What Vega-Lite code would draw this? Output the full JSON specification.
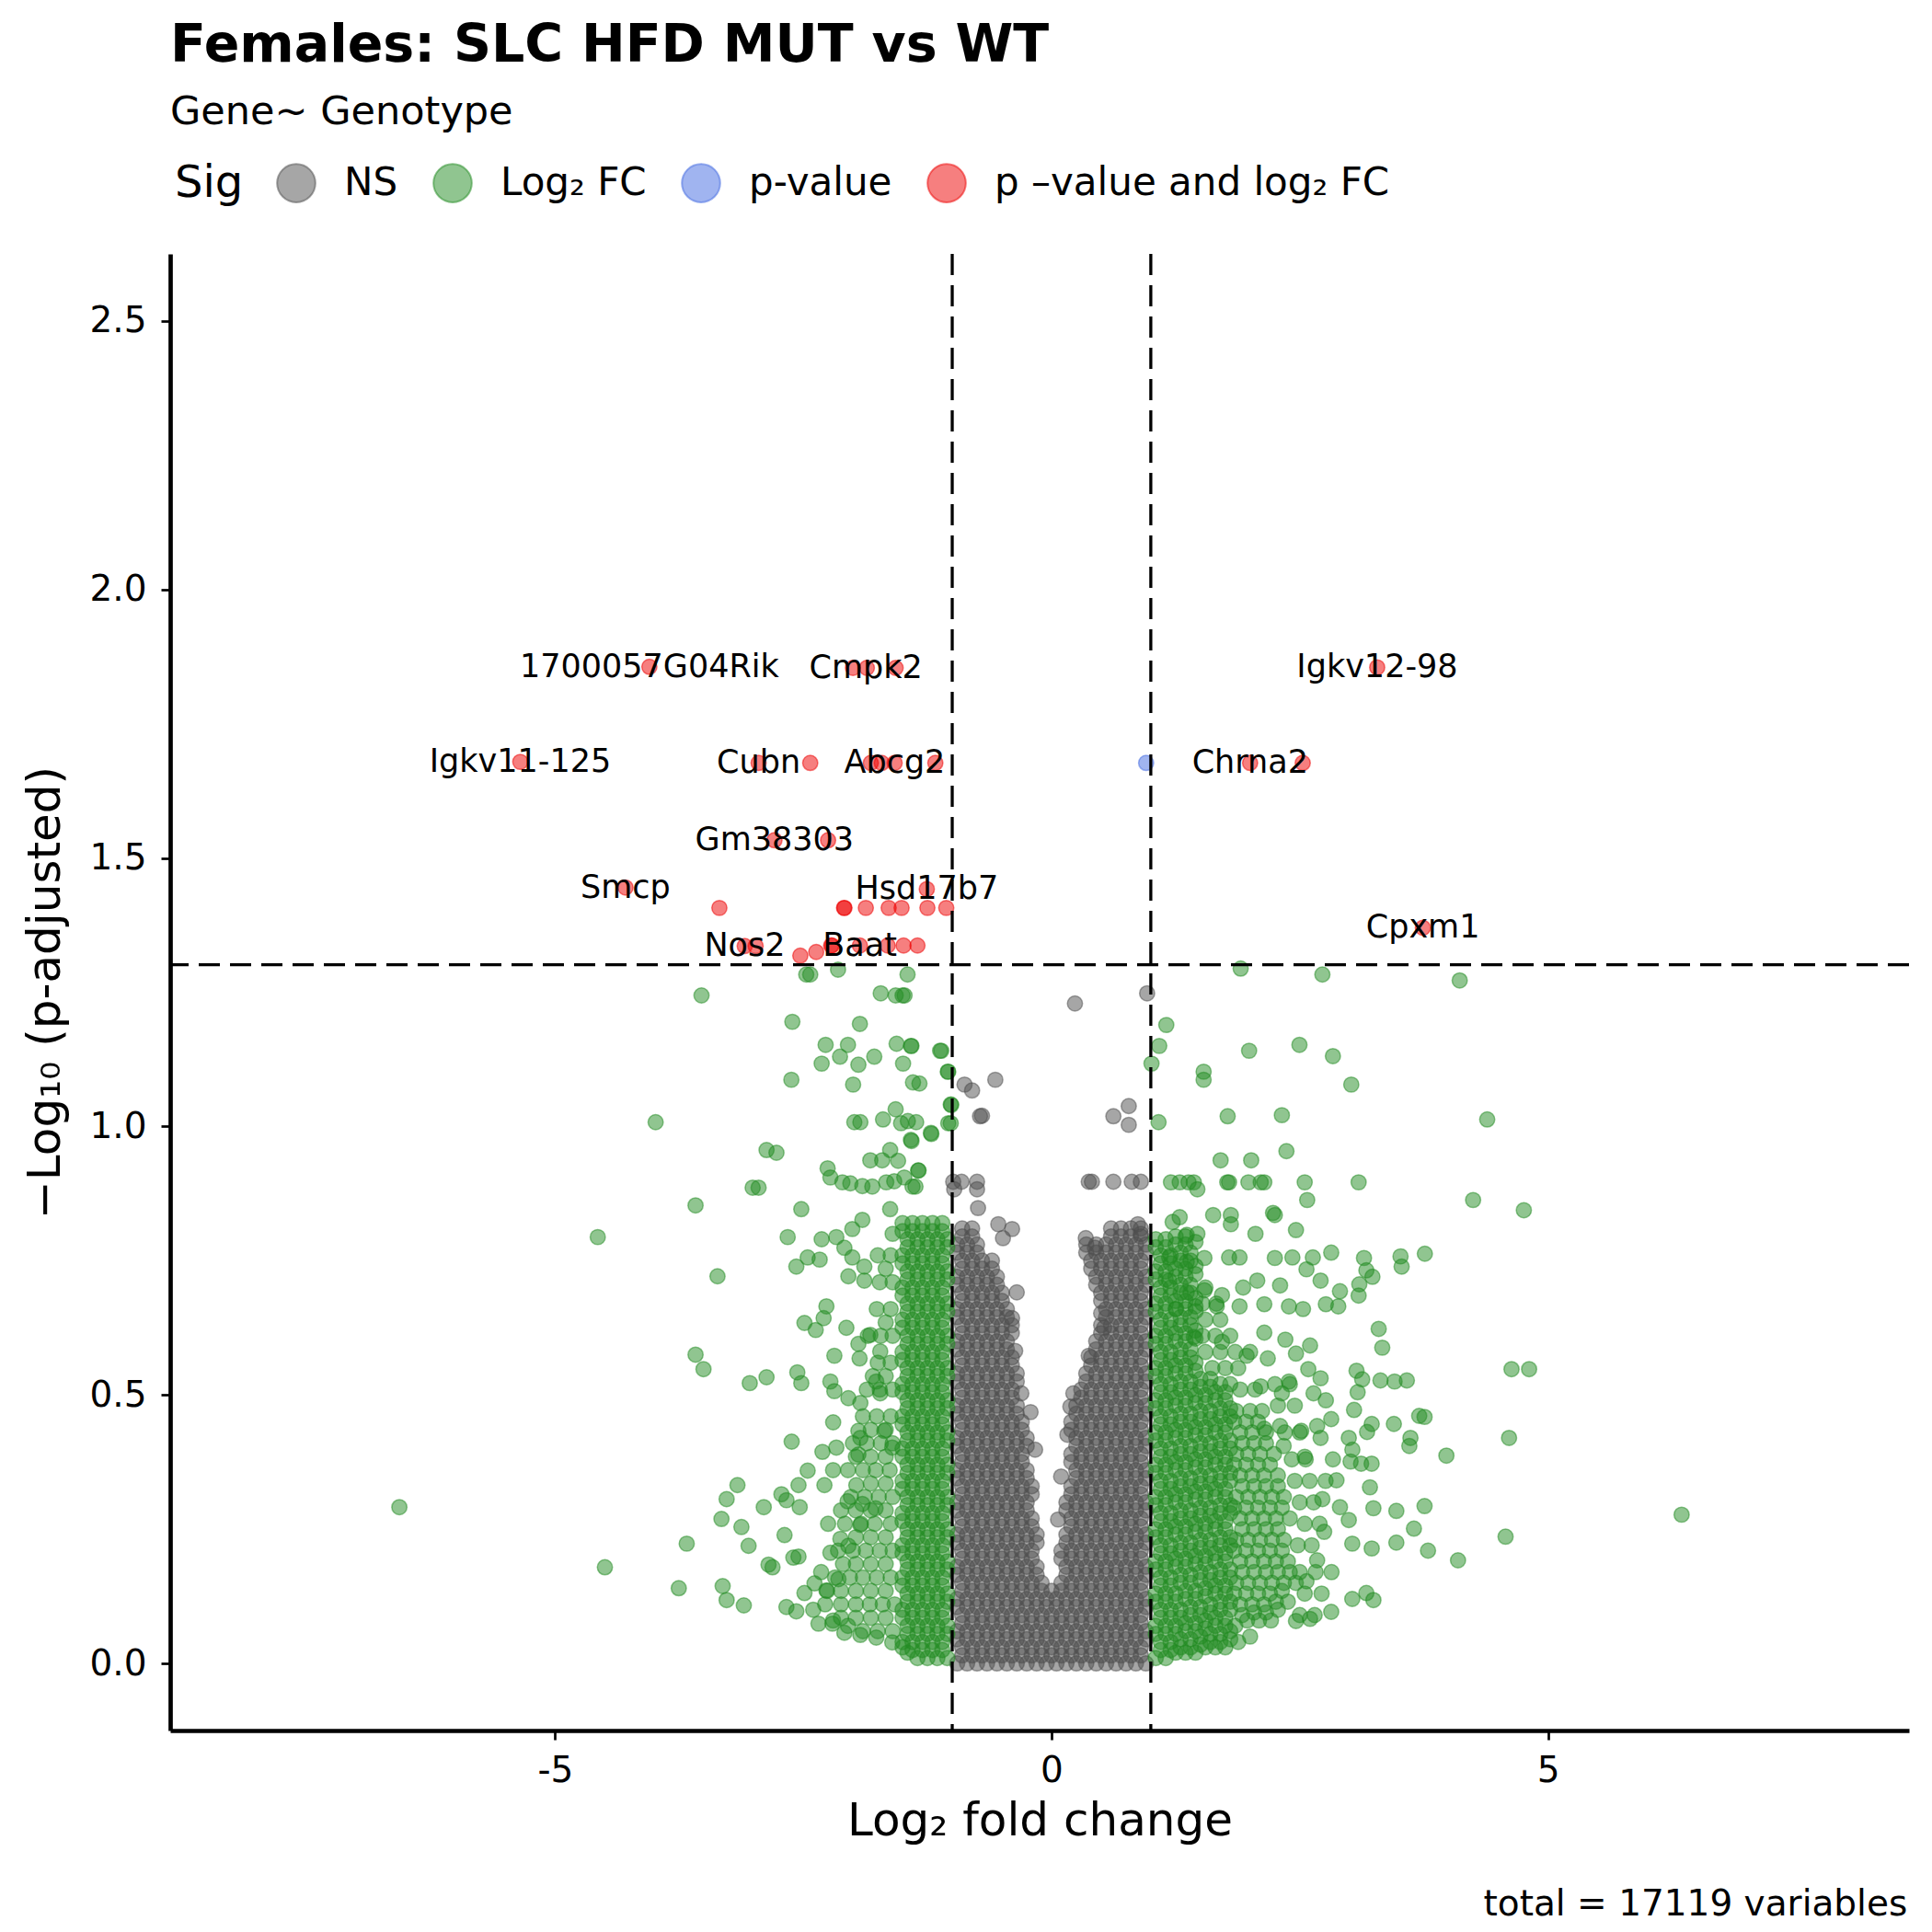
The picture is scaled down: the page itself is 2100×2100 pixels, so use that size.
{
"$schema":"https://vega.github.io/schema/vega-lite/v6.json",
"width":1890,"height":1605,
"autosize":{"type":"none"},
"padding":{"left":185,"top":276,"right":25,"bottom":219},
"background":"white",
"config":{"view":{"stroke":null},"font":"DejaVu Sans"},
"title":{"text":"Females: SLC HFD MUT vs WT","subtitle":"Gene~ Genotype","anchor":"start","frame":"group","font":"DejaVu Sans","fontSize":57,"fontWeight":"bold","color":"black","subtitleFont":"DejaVu Sans","subtitleFontSize":43,"subtitleColor":"black","subtitlePadding":22,"offset":32},
"datasets":{
"pts":[
{"x":-0.95,"y":0,"s":"N"},{"x":-0.85,"y":0,"s":"N"},{"x":-0.75,"y":0,"s":"N"},{"x":-0.65,"y":0,"s":"N"},{"x":-0.55,"y":0,"s":"N"},{"x":-0.45,"y":0,"s":"N"},{"x":-0.35,"y":0,"s":"N"},{"x":-0.25,"y":0,"s":"N"},{"x":-0.15,"y":0,"s":"N"},{"x":-0.05,"y":0,"s":"N"},{"x":0.05,"y":0,"s":"N"},{"x":0.15,"y":0,"s":"N"},{"x":0.25,"y":0,"s":"N"},{"x":0.35,"y":0,"s":"N"},{"x":0.45,"y":0,"s":"N"},{"x":0.55,"y":0,"s":"N"},{"x":0.65,"y":0,"s":"N"},{"x":0.75,"y":0,"s":"N"},{"x":0.85,"y":0,"s":"N"},{"x":0.95,"y":0,"s":"N"},
{"x":-0.9,"y":0.015,"s":"N"},{"x":-0.8,"y":0.015,"s":"N"},{"x":-0.7,"y":0.015,"s":"N"},{"x":-0.6,"y":0.015,"s":"N"},{"x":-0.5,"y":0.015,"s":"N"},{"x":-0.4,"y":0.015,"s":"N"},{"x":-0.3,"y":0.015,"s":"N"},{"x":-0.2,"y":0.015,"s":"N"},{"x":-0.1,"y":0.015,"s":"N"},{"x":0,"y":0.015,"s":"N"},{"x":0.1,"y":0.015,"s":"N"},{"x":0.2,"y":0.015,"s":"N"},{"x":0.3,"y":0.015,"s":"N"},{"x":0.4,"y":0.015,"s":"N"},{"x":0.5,"y":0.015,"s":"N"},{"x":0.6,"y":0.015,"s":"N"},{"x":0.7,"y":0.015,"s":"N"},{"x":0.8,"y":0.015,"s":"N"},{"x":0.9,"y":0.015,"s":"N"},
{"x":-0.9,"y":0.03,"s":"N"},{"x":-0.8,"y":0.03,"s":"N"},{"x":-0.7,"y":0.03,"s":"N"},{"x":-0.6,"y":0.03,"s":"N"},{"x":-0.5,"y":0.03,"s":"N"},{"x":-0.4,"y":0.03,"s":"N"},{"x":-0.3,"y":0.03,"s":"N"},{"x":-0.2,"y":0.03,"s":"N"},{"x":-0.1,"y":0.03,"s":"N"},{"x":0,"y":0.03,"s":"N"},{"x":0.1,"y":0.03,"s":"N"},{"x":0.2,"y":0.03,"s":"N"},{"x":0.3,"y":0.03,"s":"N"},{"x":0.4,"y":0.03,"s":"N"},{"x":0.5,"y":0.03,"s":"N"},{"x":0.6,"y":0.03,"s":"N"},{"x":0.7,"y":0.03,"s":"N"},{"x":0.8,"y":0.03,"s":"N"},{"x":0.9,"y":0.03,"s":"N"},
{"x":-0.95,"y":0.045,"s":"N"},{"x":-0.85,"y":0.045,"s":"N"},{"x":-0.75,"y":0.045,"s":"N"},{"x":-0.65,"y":0.045,"s":"N"},{"x":-0.55,"y":0.045,"s":"N"},{"x":-0.45,"y":0.045,"s":"N"},{"x":-0.35,"y":0.045,"s":"N"},{"x":-0.25,"y":0.045,"s":"N"},{"x":-0.15,"y":0.045,"s":"N"},{"x":-0.05,"y":0.045,"s":"N"},{"x":0.05,"y":0.045,"s":"N"},{"x":0.15,"y":0.045,"s":"N"},{"x":0.25,"y":0.045,"s":"N"},{"x":0.35,"y":0.045,"s":"N"},{"x":0.45,"y":0.045,"s":"N"},{"x":0.55,"y":0.045,"s":"N"},{"x":0.65,"y":0.045,"s":"N"},{"x":0.75,"y":0.045,"s":"N"},{"x":0.85,"y":0.045,"s":"N"},{"x":0.95,"y":0.045,"s":"N"},
{"x":-0.95,"y":0.06,"s":"N"},{"x":-0.85,"y":0.06,"s":"N"},{"x":-0.75,"y":0.06,"s":"N"},{"x":-0.65,"y":0.06,"s":"N"},{"x":-0.55,"y":0.06,"s":"N"},{"x":-0.45,"y":0.06,"s":"N"},{"x":-0.35,"y":0.06,"s":"N"},{"x":-0.25,"y":0.06,"s":"N"},{"x":-0.15,"y":0.06,"s":"N"},{"x":-0.05,"y":0.06,"s":"N"},{"x":0.05,"y":0.06,"s":"N"},{"x":0.15,"y":0.06,"s":"N"},{"x":0.25,"y":0.06,"s":"N"},{"x":0.35,"y":0.06,"s":"N"},{"x":0.45,"y":0.06,"s":"N"},{"x":0.55,"y":0.06,"s":"N"},{"x":0.65,"y":0.06,"s":"N"},{"x":0.75,"y":0.06,"s":"N"},{"x":0.85,"y":0.06,"s":"N"},{"x":0.95,"y":0.06,"s":"N"},
{"x":-0.9,"y":0.075,"s":"N"},{"x":-0.8,"y":0.075,"s":"N"},{"x":-0.7,"y":0.075,"s":"N"},{"x":-0.6,"y":0.075,"s":"N"},{"x":-0.5,"y":0.075,"s":"N"},{"x":-0.4,"y":0.075,"s":"N"},{"x":-0.3,"y":0.075,"s":"N"},{"x":-0.2,"y":0.075,"s":"N"},{"x":-0.1,"y":0.075,"s":"N"},{"x":0,"y":0.075,"s":"N"},{"x":0.1,"y":0.075,"s":"N"},{"x":0.2,"y":0.075,"s":"N"},{"x":0.3,"y":0.075,"s":"N"},{"x":0.4,"y":0.075,"s":"N"},{"x":0.5,"y":0.075,"s":"N"},{"x":0.6,"y":0.075,"s":"N"},{"x":0.7,"y":0.075,"s":"N"},{"x":0.8,"y":0.075,"s":"N"},{"x":0.9,"y":0.075,"s":"N"},
{"x":-0.9,"y":0.09,"s":"N"},{"x":-0.8,"y":0.09,"s":"N"},{"x":-0.7,"y":0.09,"s":"N"},{"x":-0.6,"y":0.09,"s":"N"},{"x":-0.5,"y":0.09,"s":"N"},{"x":-0.4,"y":0.09,"s":"N"},{"x":-0.3,"y":0.09,"s":"N"},{"x":-0.2,"y":0.09,"s":"N"},{"x":-0.1,"y":0.09,"s":"N"},{"x":0,"y":0.09,"s":"N"},{"x":0.1,"y":0.09,"s":"N"},{"x":0.2,"y":0.09,"s":"N"},{"x":0.3,"y":0.09,"s":"N"},{"x":0.4,"y":0.09,"s":"N"},{"x":0.5,"y":0.09,"s":"N"},{"x":0.6,"y":0.09,"s":"N"},{"x":0.7,"y":0.09,"s":"N"},{"x":0.8,"y":0.09,"s":"N"},{"x":0.9,"y":0.09,"s":"N"},
{"x":-0.95,"y":0.105,"s":"N"},{"x":-0.85,"y":0.105,"s":"N"},{"x":-0.75,"y":0.105,"s":"N"},{"x":-0.65,"y":0.105,"s":"N"},{"x":-0.55,"y":0.105,"s":"N"},{"x":-0.45,"y":0.105,"s":"N"},{"x":-0.35,"y":0.105,"s":"N"},{"x":-0.25,"y":0.105,"s":"N"},{"x":-0.15,"y":0.105,"s":"N"},{"x":-0.05,"y":0.105,"s":"N"},{"x":0.05,"y":0.105,"s":"N"},{"x":0.15,"y":0.105,"s":"N"},{"x":0.25,"y":0.105,"s":"N"},{"x":0.35,"y":0.105,"s":"N"},{"x":0.45,"y":0.105,"s":"N"},{"x":0.55,"y":0.105,"s":"N"},{"x":0.65,"y":0.105,"s":"N"},{"x":0.75,"y":0.105,"s":"N"},{"x":0.85,"y":0.105,"s":"N"},{"x":0.95,"y":0.105,"s":"N"},
{"x":-0.95,"y":0.12,"s":"N"},{"x":-0.85,"y":0.12,"s":"N"},{"x":-0.75,"y":0.12,"s":"N"},{"x":-0.65,"y":0.12,"s":"N"},{"x":-0.55,"y":0.12,"s":"N"},{"x":-0.45,"y":0.12,"s":"N"},{"x":-0.35,"y":0.12,"s":"N"},{"x":-0.25,"y":0.12,"s":"N"},{"x":-0.15,"y":0.12,"s":"N"},{"x":-0.05,"y":0.12,"s":"N"},{"x":0.05,"y":0.12,"s":"N"},{"x":0.15,"y":0.12,"s":"N"},{"x":0.25,"y":0.12,"s":"N"},{"x":0.35,"y":0.12,"s":"N"},{"x":0.45,"y":0.12,"s":"N"},{"x":0.55,"y":0.12,"s":"N"},{"x":0.65,"y":0.12,"s":"N"},{"x":0.75,"y":0.12,"s":"N"},{"x":0.85,"y":0.12,"s":"N"},{"x":0.95,"y":0.12,"s":"N"},
{"x":-0.9,"y":0.135,"s":"N"},{"x":-0.8,"y":0.135,"s":"N"},{"x":-0.7,"y":0.135,"s":"N"},{"x":-0.6,"y":0.135,"s":"N"},{"x":-0.5,"y":0.135,"s":"N"},{"x":-0.4,"y":0.135,"s":"N"},{"x":-0.3,"y":0.135,"s":"N"},{"x":-0.2,"y":0.135,"s":"N"},{"x":-0.1,"y":0.135,"s":"N"},{"x":0,"y":0.135,"s":"N"},{"x":0.1,"y":0.135,"s":"N"},{"x":0.2,"y":0.135,"s":"N"},{"x":0.3,"y":0.135,"s":"N"},{"x":0.4,"y":0.135,"s":"N"},{"x":0.5,"y":0.135,"s":"N"},{"x":0.6,"y":0.135,"s":"N"},{"x":0.7,"y":0.135,"s":"N"},{"x":0.8,"y":0.135,"s":"N"},{"x":0.9,"y":0.135,"s":"N"},
{"x":-0.9,"y":0.15,"s":"N"},{"x":-0.8,"y":0.15,"s":"N"},{"x":-0.7,"y":0.15,"s":"N"},{"x":-0.6,"y":0.15,"s":"N"},{"x":-0.5,"y":0.15,"s":"N"},{"x":-0.4,"y":0.15,"s":"N"},{"x":-0.3,"y":0.15,"s":"N"},{"x":-0.2,"y":0.15,"s":"N"},{"x":-0.1,"y":0.15,"s":"N"},{"x":0.1,"y":0.15,"s":"N"},{"x":0.2,"y":0.15,"s":"N"},{"x":0.3,"y":0.15,"s":"N"},{"x":0.4,"y":0.15,"s":"N"},{"x":0.5,"y":0.15,"s":"N"},{"x":0.6,"y":0.15,"s":"N"},{"x":0.7,"y":0.15,"s":"N"},{"x":0.8,"y":0.15,"s":"N"},{"x":0.9,"y":0.15,"s":"N"},
{"x":-0.95,"y":0.165,"s":"N"},{"x":-0.85,"y":0.165,"s":"N"},{"x":-0.75,"y":0.165,"s":"N"},{"x":-0.65,"y":0.165,"s":"N"},{"x":-0.55,"y":0.165,"s":"N"},{"x":-0.45,"y":0.165,"s":"N"},{"x":-0.35,"y":0.165,"s":"N"},{"x":-0.25,"y":0.165,"s":"N"},{"x":-0.15,"y":0.165,"s":"N"},{"x":0.15,"y":0.165,"s":"N"},{"x":0.25,"y":0.165,"s":"N"},{"x":0.35,"y":0.165,"s":"N"},{"x":0.45,"y":0.165,"s":"N"},{"x":0.55,"y":0.165,"s":"N"},{"x":0.65,"y":0.165,"s":"N"},{"x":0.75,"y":0.165,"s":"N"},{"x":0.85,"y":0.165,"s":"N"},{"x":0.95,"y":0.165,"s":"N"},
{"x":-0.95,"y":0.18,"s":"N"},{"x":-0.85,"y":0.18,"s":"N"},{"x":-0.75,"y":0.18,"s":"N"},{"x":-0.65,"y":0.18,"s":"N"},{"x":-0.55,"y":0.18,"s":"N"},{"x":-0.45,"y":0.18,"s":"N"},{"x":-0.35,"y":0.18,"s":"N"},{"x":-0.25,"y":0.18,"s":"N"},{"x":-0.15,"y":0.18,"s":"N"},{"x":0.15,"y":0.18,"s":"N"},{"x":0.25,"y":0.18,"s":"N"},{"x":0.35,"y":0.18,"s":"N"},{"x":0.45,"y":0.18,"s":"N"},{"x":0.55,"y":0.18,"s":"N"},{"x":0.65,"y":0.18,"s":"N"},{"x":0.75,"y":0.18,"s":"N"},{"x":0.85,"y":0.18,"s":"N"},{"x":0.95,"y":0.18,"s":"N"},
{"x":-0.9,"y":0.195,"s":"N"},{"x":-0.8,"y":0.195,"s":"N"},{"x":-0.7,"y":0.195,"s":"N"},{"x":-0.6,"y":0.195,"s":"N"},{"x":-0.5,"y":0.195,"s":"N"},{"x":-0.4,"y":0.195,"s":"N"},{"x":-0.3,"y":0.195,"s":"N"},{"x":-0.2,"y":0.195,"s":"N"},{"x":0.1,"y":0.195,"s":"N"},{"x":0.2,"y":0.195,"s":"N"},{"x":0.3,"y":0.195,"s":"N"},{"x":0.4,"y":0.195,"s":"N"},{"x":0.5,"y":0.195,"s":"N"},{"x":0.6,"y":0.195,"s":"N"},{"x":0.7,"y":0.195,"s":"N"},{"x":0.8,"y":0.195,"s":"N"},{"x":0.9,"y":0.195,"s":"N"},
{"x":-0.9,"y":0.21,"s":"N"},{"x":-0.8,"y":0.21,"s":"N"},{"x":-0.7,"y":0.21,"s":"N"},{"x":-0.6,"y":0.21,"s":"N"},{"x":-0.5,"y":0.21,"s":"N"},{"x":-0.4,"y":0.21,"s":"N"},{"x":-0.3,"y":0.21,"s":"N"},{"x":-0.2,"y":0.21,"s":"N"},{"x":0.1,"y":0.21,"s":"N"},{"x":0.2,"y":0.21,"s":"N"},{"x":0.3,"y":0.21,"s":"N"},{"x":0.4,"y":0.21,"s":"N"},{"x":0.5,"y":0.21,"s":"N"},{"x":0.6,"y":0.21,"s":"N"},{"x":0.7,"y":0.21,"s":"N"},{"x":0.8,"y":0.21,"s":"N"},{"x":0.9,"y":0.21,"s":"N"},
{"x":-0.95,"y":0.225,"s":"N"},{"x":-0.85,"y":0.225,"s":"N"},{"x":-0.75,"y":0.225,"s":"N"},{"x":-0.65,"y":0.225,"s":"N"},{"x":-0.55,"y":0.225,"s":"N"},{"x":-0.45,"y":0.225,"s":"N"},{"x":-0.35,"y":0.225,"s":"N"},{"x":-0.25,"y":0.225,"s":"N"},{"x":-0.15,"y":0.225,"s":"N"},{"x":0.15,"y":0.225,"s":"N"},{"x":0.25,"y":0.225,"s":"N"},{"x":0.35,"y":0.225,"s":"N"},{"x":0.45,"y":0.225,"s":"N"},{"x":0.55,"y":0.225,"s":"N"},{"x":0.65,"y":0.225,"s":"N"},{"x":0.75,"y":0.225,"s":"N"},{"x":0.85,"y":0.225,"s":"N"},{"x":0.95,"y":0.225,"s":"N"},
{"x":-0.95,"y":0.24,"s":"N"},{"x":-0.85,"y":0.24,"s":"N"},{"x":-0.75,"y":0.24,"s":"N"},{"x":-0.65,"y":0.24,"s":"N"},{"x":-0.55,"y":0.24,"s":"N"},{"x":-0.45,"y":0.24,"s":"N"},{"x":-0.35,"y":0.24,"s":"N"},{"x":-0.25,"y":0.24,"s":"N"},{"x":-0.15,"y":0.24,"s":"N"},{"x":0.15,"y":0.24,"s":"N"},{"x":0.25,"y":0.24,"s":"N"},{"x":0.35,"y":0.24,"s":"N"},{"x":0.45,"y":0.24,"s":"N"},{"x":0.55,"y":0.24,"s":"N"},{"x":0.65,"y":0.24,"s":"N"},{"x":0.75,"y":0.24,"s":"N"},{"x":0.85,"y":0.24,"s":"N"},{"x":0.95,"y":0.24,"s":"N"},
{"x":-0.9,"y":0.255,"s":"N"},{"x":-0.8,"y":0.255,"s":"N"},{"x":-0.7,"y":0.255,"s":"N"},{"x":-0.6,"y":0.255,"s":"N"},{"x":-0.5,"y":0.255,"s":"N"},{"x":-0.4,"y":0.255,"s":"N"},{"x":-0.3,"y":0.255,"s":"N"},{"x":-0.2,"y":0.255,"s":"N"},{"x":0.2,"y":0.255,"s":"N"},{"x":0.3,"y":0.255,"s":"N"},{"x":0.4,"y":0.255,"s":"N"},{"x":0.5,"y":0.255,"s":"N"},{"x":0.6,"y":0.255,"s":"N"},{"x":0.7,"y":0.255,"s":"N"},{"x":0.8,"y":0.255,"s":"N"},{"x":0.9,"y":0.255,"s":"N"},
{"x":-0.9,"y":0.27,"s":"N"},{"x":-0.8,"y":0.27,"s":"N"},{"x":-0.7,"y":0.27,"s":"N"},{"x":-0.6,"y":0.27,"s":"N"},{"x":-0.5,"y":0.27,"s":"N"},{"x":-0.4,"y":0.27,"s":"N"},{"x":-0.3,"y":0.27,"s":"N"},{"x":-0.2,"y":0.27,"s":"N"},{"x":0.2,"y":0.27,"s":"N"},{"x":0.3,"y":0.27,"s":"N"},{"x":0.4,"y":0.27,"s":"N"},{"x":0.5,"y":0.27,"s":"N"},{"x":0.6,"y":0.27,"s":"N"},{"x":0.7,"y":0.27,"s":"N"},{"x":0.8,"y":0.27,"s":"N"},{"x":0.9,"y":0.27,"s":"N"},
{"x":-0.95,"y":0.285,"s":"N"},{"x":-0.85,"y":0.285,"s":"N"},{"x":-0.75,"y":0.285,"s":"N"},{"x":-0.65,"y":0.285,"s":"N"},{"x":-0.55,"y":0.285,"s":"N"},{"x":-0.45,"y":0.285,"s":"N"},{"x":-0.35,"y":0.285,"s":"N"},{"x":-0.25,"y":0.285,"s":"N"},{"x":0.15,"y":0.285,"s":"N"},{"x":0.25,"y":0.285,"s":"N"},{"x":0.35,"y":0.285,"s":"N"},{"x":0.45,"y":0.285,"s":"N"},{"x":0.55,"y":0.285,"s":"N"},{"x":0.65,"y":0.285,"s":"N"},{"x":0.75,"y":0.285,"s":"N"},{"x":0.85,"y":0.285,"s":"N"},{"x":0.95,"y":0.285,"s":"N"},
{"x":-0.95,"y":0.3,"s":"N"},{"x":-0.85,"y":0.3,"s":"N"},{"x":-0.75,"y":0.3,"s":"N"},{"x":-0.65,"y":0.3,"s":"N"},{"x":-0.55,"y":0.3,"s":"N"},{"x":-0.45,"y":0.3,"s":"N"},{"x":-0.35,"y":0.3,"s":"N"},{"x":-0.25,"y":0.3,"s":"N"},{"x":0.15,"y":0.3,"s":"N"},{"x":0.25,"y":0.3,"s":"N"},{"x":0.35,"y":0.3,"s":"N"},{"x":0.45,"y":0.3,"s":"N"},{"x":0.55,"y":0.3,"s":"N"},{"x":0.65,"y":0.3,"s":"N"},{"x":0.75,"y":0.3,"s":"N"},{"x":0.85,"y":0.3,"s":"N"},{"x":0.95,"y":0.3,"s":"N"},
{"x":-0.9,"y":0.315,"s":"N"},{"x":-0.8,"y":0.315,"s":"N"},{"x":-0.7,"y":0.315,"s":"N"},{"x":-0.6,"y":0.315,"s":"N"},{"x":-0.5,"y":0.315,"s":"N"},{"x":-0.4,"y":0.315,"s":"N"},{"x":-0.3,"y":0.315,"s":"N"},{"x":-0.2,"y":0.315,"s":"N"},{"x":0.2,"y":0.315,"s":"N"},{"x":0.3,"y":0.315,"s":"N"},{"x":0.4,"y":0.315,"s":"N"},{"x":0.5,"y":0.315,"s":"N"},{"x":0.6,"y":0.315,"s":"N"},{"x":0.7,"y":0.315,"s":"N"},{"x":0.8,"y":0.315,"s":"N"},{"x":0.9,"y":0.315,"s":"N"},
{"x":-0.9,"y":0.33,"s":"N"},{"x":-0.8,"y":0.33,"s":"N"},{"x":-0.7,"y":0.33,"s":"N"},{"x":-0.6,"y":0.33,"s":"N"},{"x":-0.5,"y":0.33,"s":"N"},{"x":-0.4,"y":0.33,"s":"N"},{"x":-0.3,"y":0.33,"s":"N"},{"x":-0.2,"y":0.33,"s":"N"},{"x":0.2,"y":0.33,"s":"N"},{"x":0.3,"y":0.33,"s":"N"},{"x":0.4,"y":0.33,"s":"N"},{"x":0.5,"y":0.33,"s":"N"},{"x":0.6,"y":0.33,"s":"N"},{"x":0.7,"y":0.33,"s":"N"},{"x":0.8,"y":0.33,"s":"N"},{"x":0.9,"y":0.33,"s":"N"},
{"x":-0.95,"y":0.345,"s":"N"},{"x":-0.85,"y":0.345,"s":"N"},{"x":-0.75,"y":0.345,"s":"N"},{"x":-0.65,"y":0.345,"s":"N"},{"x":-0.55,"y":0.345,"s":"N"},{"x":-0.45,"y":0.345,"s":"N"},{"x":-0.35,"y":0.345,"s":"N"},{"x":-0.25,"y":0.345,"s":"N"},{"x":0.25,"y":0.345,"s":"N"},{"x":0.35,"y":0.345,"s":"N"},{"x":0.45,"y":0.345,"s":"N"},{"x":0.55,"y":0.345,"s":"N"},{"x":0.65,"y":0.345,"s":"N"},{"x":0.75,"y":0.345,"s":"N"},{"x":0.85,"y":0.345,"s":"N"},{"x":0.95,"y":0.345,"s":"N"},
{"x":-0.95,"y":0.36,"s":"N"},{"x":-0.85,"y":0.36,"s":"N"},{"x":-0.75,"y":0.36,"s":"N"},{"x":-0.65,"y":0.36,"s":"N"},{"x":-0.55,"y":0.36,"s":"N"},{"x":-0.45,"y":0.36,"s":"N"},{"x":-0.35,"y":0.36,"s":"N"},{"x":-0.25,"y":0.36,"s":"N"},{"x":0.25,"y":0.36,"s":"N"},{"x":0.35,"y":0.36,"s":"N"},{"x":0.45,"y":0.36,"s":"N"},{"x":0.55,"y":0.36,"s":"N"},{"x":0.65,"y":0.36,"s":"N"},{"x":0.75,"y":0.36,"s":"N"},{"x":0.85,"y":0.36,"s":"N"},{"x":0.95,"y":0.36,"s":"N"},
{"x":-0.9,"y":0.375,"s":"N"},{"x":-0.8,"y":0.375,"s":"N"},{"x":-0.7,"y":0.375,"s":"N"},{"x":-0.6,"y":0.375,"s":"N"},{"x":-0.5,"y":0.375,"s":"N"},{"x":-0.4,"y":0.375,"s":"N"},{"x":-0.3,"y":0.375,"s":"N"},{"x":0.2,"y":0.375,"s":"N"},{"x":0.3,"y":0.375,"s":"N"},{"x":0.4,"y":0.375,"s":"N"},{"x":0.5,"y":0.375,"s":"N"},{"x":0.6,"y":0.375,"s":"N"},{"x":0.7,"y":0.375,"s":"N"},{"x":0.8,"y":0.375,"s":"N"},{"x":0.9,"y":0.375,"s":"N"},
{"x":-0.9,"y":0.39,"s":"N"},{"x":-0.8,"y":0.39,"s":"N"},{"x":-0.7,"y":0.39,"s":"N"},{"x":-0.6,"y":0.39,"s":"N"},{"x":-0.5,"y":0.39,"s":"N"},{"x":-0.4,"y":0.39,"s":"N"},{"x":-0.3,"y":0.39,"s":"N"},{"x":0.2,"y":0.39,"s":"N"},{"x":0.3,"y":0.39,"s":"N"},{"x":0.4,"y":0.39,"s":"N"},{"x":0.5,"y":0.39,"s":"N"},{"x":0.6,"y":0.39,"s":"N"},{"x":0.7,"y":0.39,"s":"N"},{"x":0.8,"y":0.39,"s":"N"},{"x":0.9,"y":0.39,"s":"N"},
{"x":-0.95,"y":0.405,"s":"N"},{"x":-0.85,"y":0.405,"s":"N"},{"x":-0.75,"y":0.405,"s":"N"},{"x":-0.65,"y":0.405,"s":"N"},{"x":-0.55,"y":0.405,"s":"N"},{"x":-0.45,"y":0.405,"s":"N"},{"x":-0.35,"y":0.405,"s":"N"},{"x":-0.25,"y":0.405,"s":"N"},{"x":0.25,"y":0.405,"s":"N"},{"x":0.35,"y":0.405,"s":"N"},{"x":0.45,"y":0.405,"s":"N"},{"x":0.55,"y":0.405,"s":"N"},{"x":0.65,"y":0.405,"s":"N"},{"x":0.75,"y":0.405,"s":"N"},{"x":0.85,"y":0.405,"s":"N"},{"x":0.95,"y":0.405,"s":"N"},
{"x":-0.95,"y":0.42,"s":"N"},{"x":-0.85,"y":0.42,"s":"N"},{"x":-0.75,"y":0.42,"s":"N"},{"x":-0.65,"y":0.42,"s":"N"},{"x":-0.55,"y":0.42,"s":"N"},{"x":-0.45,"y":0.42,"s":"N"},{"x":-0.35,"y":0.42,"s":"N"},{"x":-0.25,"y":0.42,"s":"N"},{"x":0.25,"y":0.42,"s":"N"},{"x":0.35,"y":0.42,"s":"N"},{"x":0.45,"y":0.42,"s":"N"},{"x":0.55,"y":0.42,"s":"N"},{"x":0.65,"y":0.42,"s":"N"},{"x":0.75,"y":0.42,"s":"N"},{"x":0.85,"y":0.42,"s":"N"},{"x":0.95,"y":0.42,"s":"N"},
{"x":-0.9,"y":0.435,"s":"N"},{"x":-0.8,"y":0.435,"s":"N"},{"x":-0.7,"y":0.435,"s":"N"},{"x":-0.6,"y":0.435,"s":"N"},{"x":-0.5,"y":0.435,"s":"N"},{"x":-0.4,"y":0.435,"s":"N"},{"x":-0.3,"y":0.435,"s":"N"},{"x":0.2,"y":0.435,"s":"N"},{"x":0.3,"y":0.435,"s":"N"},{"x":0.4,"y":0.435,"s":"N"},{"x":0.5,"y":0.435,"s":"N"},{"x":0.6,"y":0.435,"s":"N"},{"x":0.7,"y":0.435,"s":"N"},{"x":0.8,"y":0.435,"s":"N"},{"x":0.9,"y":0.435,"s":"N"},
{"x":-0.9,"y":0.45,"s":"N"},{"x":-0.8,"y":0.45,"s":"N"},{"x":-0.7,"y":0.45,"s":"N"},{"x":-0.6,"y":0.45,"s":"N"},{"x":-0.5,"y":0.45,"s":"N"},{"x":-0.4,"y":0.45,"s":"N"},{"x":-0.3,"y":0.45,"s":"N"},{"x":0.2,"y":0.45,"s":"N"},{"x":0.3,"y":0.45,"s":"N"},{"x":0.4,"y":0.45,"s":"N"},{"x":0.5,"y":0.45,"s":"N"},{"x":0.6,"y":0.45,"s":"N"},{"x":0.7,"y":0.45,"s":"N"},{"x":0.8,"y":0.45,"s":"N"},{"x":0.9,"y":0.45,"s":"N"},
{"x":-0.95,"y":0.465,"s":"N"},{"x":-0.85,"y":0.465,"s":"N"},{"x":-0.75,"y":0.465,"s":"N"},{"x":-0.65,"y":0.465,"s":"N"},{"x":-0.55,"y":0.465,"s":"N"},{"x":-0.45,"y":0.465,"s":"N"},{"x":-0.35,"y":0.465,"s":"N"},{"x":0.25,"y":0.465,"s":"N"},{"x":0.35,"y":0.465,"s":"N"},{"x":0.45,"y":0.465,"s":"N"},{"x":0.55,"y":0.465,"s":"N"},{"x":0.65,"y":0.465,"s":"N"},{"x":0.75,"y":0.465,"s":"N"},{"x":0.85,"y":0.465,"s":"N"},{"x":0.95,"y":0.465,"s":"N"},
{"x":-0.95,"y":0.48,"s":"N"},{"x":-0.85,"y":0.48,"s":"N"},{"x":-0.75,"y":0.48,"s":"N"},{"x":-0.65,"y":0.48,"s":"N"},{"x":-0.55,"y":0.48,"s":"N"},{"x":-0.45,"y":0.48,"s":"N"},{"x":-0.35,"y":0.48,"s":"N"},{"x":0.25,"y":0.48,"s":"N"},{"x":0.35,"y":0.48,"s":"N"},{"x":0.45,"y":0.48,"s":"N"},{"x":0.55,"y":0.48,"s":"N"},{"x":0.65,"y":0.48,"s":"N"},{"x":0.75,"y":0.48,"s":"N"},{"x":0.85,"y":0.48,"s":"N"},{"x":0.95,"y":0.48,"s":"N"},
{"x":-0.9,"y":0.495,"s":"N"},{"x":-0.8,"y":0.495,"s":"N"},{"x":-0.7,"y":0.495,"s":"N"},{"x":-0.6,"y":0.495,"s":"N"},{"x":-0.5,"y":0.495,"s":"N"},{"x":-0.4,"y":0.495,"s":"N"},{"x":0.3,"y":0.495,"s":"N"},{"x":0.4,"y":0.495,"s":"N"},{"x":0.5,"y":0.495,"s":"N"},{"x":0.6,"y":0.495,"s":"N"},{"x":0.7,"y":0.495,"s":"N"},{"x":0.8,"y":0.495,"s":"N"},{"x":0.9,"y":0.495,"s":"N"},
{"x":-0.9,"y":0.51,"s":"N"},{"x":-0.8,"y":0.51,"s":"N"},{"x":-0.7,"y":0.51,"s":"N"},{"x":-0.6,"y":0.51,"s":"N"},{"x":-0.5,"y":0.51,"s":"N"},{"x":-0.4,"y":0.51,"s":"N"},{"x":0.3,"y":0.51,"s":"N"},{"x":0.4,"y":0.51,"s":"N"},{"x":0.5,"y":0.51,"s":"N"},{"x":0.6,"y":0.51,"s":"N"},{"x":0.7,"y":0.51,"s":"N"},{"x":0.8,"y":0.51,"s":"N"},{"x":0.9,"y":0.51,"s":"N"},
{"x":-0.95,"y":0.525,"s":"N"},{"x":-0.85,"y":0.525,"s":"N"},{"x":-0.75,"y":0.525,"s":"N"},{"x":-0.65,"y":0.525,"s":"N"},{"x":-0.55,"y":0.525,"s":"N"},{"x":-0.45,"y":0.525,"s":"N"},{"x":-0.35,"y":0.525,"s":"N"},{"x":0.35,"y":0.525,"s":"N"},{"x":0.45,"y":0.525,"s":"N"},{"x":0.55,"y":0.525,"s":"N"},{"x":0.65,"y":0.525,"s":"N"},{"x":0.75,"y":0.525,"s":"N"},{"x":0.85,"y":0.525,"s":"N"},{"x":0.95,"y":0.525,"s":"N"},
{"x":-0.95,"y":0.54,"s":"N"},{"x":-0.85,"y":0.54,"s":"N"},{"x":-0.75,"y":0.54,"s":"N"},{"x":-0.65,"y":0.54,"s":"N"},{"x":-0.55,"y":0.54,"s":"N"},{"x":-0.45,"y":0.54,"s":"N"},{"x":-0.35,"y":0.54,"s":"N"},{"x":0.35,"y":0.54,"s":"N"},{"x":0.45,"y":0.54,"s":"N"},{"x":0.55,"y":0.54,"s":"N"},{"x":0.65,"y":0.54,"s":"N"},{"x":0.75,"y":0.54,"s":"N"},{"x":0.85,"y":0.54,"s":"N"},{"x":0.95,"y":0.54,"s":"N"},
{"x":-0.9,"y":0.555,"s":"N"},{"x":-0.8,"y":0.555,"s":"N"},{"x":-0.7,"y":0.555,"s":"N"},{"x":-0.6,"y":0.555,"s":"N"},{"x":-0.5,"y":0.555,"s":"N"},{"x":-0.4,"y":0.555,"s":"N"},{"x":0.4,"y":0.555,"s":"N"},{"x":0.5,"y":0.555,"s":"N"},{"x":0.6,"y":0.555,"s":"N"},{"x":0.7,"y":0.555,"s":"N"},{"x":0.8,"y":0.555,"s":"N"},{"x":0.9,"y":0.555,"s":"N"},
{"x":-0.9,"y":0.57,"s":"N"},{"x":-0.8,"y":0.57,"s":"N"},{"x":-0.7,"y":0.57,"s":"N"},{"x":-0.6,"y":0.57,"s":"N"},{"x":-0.5,"y":0.57,"s":"N"},{"x":-0.4,"y":0.57,"s":"N"},{"x":0.4,"y":0.57,"s":"N"},{"x":0.5,"y":0.57,"s":"N"},{"x":0.6,"y":0.57,"s":"N"},{"x":0.7,"y":0.57,"s":"N"},{"x":0.8,"y":0.57,"s":"N"},{"x":0.9,"y":0.57,"s":"N"},
{"x":-0.95,"y":0.585,"s":"N"},{"x":-0.85,"y":0.585,"s":"N"},{"x":-0.75,"y":0.585,"s":"N"},{"x":-0.65,"y":0.585,"s":"N"},{"x":-0.55,"y":0.585,"s":"N"},{"x":-0.45,"y":0.585,"s":"N"},{"x":0.45,"y":0.585,"s":"N"},{"x":0.55,"y":0.585,"s":"N"},{"x":0.65,"y":0.585,"s":"N"},{"x":0.75,"y":0.585,"s":"N"},{"x":0.85,"y":0.585,"s":"N"},{"x":0.95,"y":0.585,"s":"N"},
{"x":-0.95,"y":0.6,"s":"N"},{"x":-0.85,"y":0.6,"s":"N"},{"x":-0.75,"y":0.6,"s":"N"},{"x":-0.65,"y":0.6,"s":"N"},{"x":-0.55,"y":0.6,"s":"N"},{"x":-0.45,"y":0.6,"s":"N"},{"x":0.45,"y":0.6,"s":"N"},{"x":0.55,"y":0.6,"s":"N"},{"x":0.65,"y":0.6,"s":"N"},{"x":0.75,"y":0.6,"s":"N"},{"x":0.85,"y":0.6,"s":"N"},{"x":0.95,"y":0.6,"s":"N"},
{"x":-0.9,"y":0.615,"s":"N"},{"x":-0.8,"y":0.615,"s":"N"},{"x":-0.7,"y":0.615,"s":"N"},{"x":-0.6,"y":0.615,"s":"N"},{"x":-0.5,"y":0.615,"s":"N"},{"x":-0.4,"y":0.615,"s":"N"},{"x":0.5,"y":0.615,"s":"N"},{"x":0.6,"y":0.615,"s":"N"},{"x":0.7,"y":0.615,"s":"N"},{"x":0.8,"y":0.615,"s":"N"},{"x":0.9,"y":0.615,"s":"N"},
{"x":-0.9,"y":0.63,"s":"N"},{"x":-0.8,"y":0.63,"s":"N"},{"x":-0.7,"y":0.63,"s":"N"},{"x":-0.6,"y":0.63,"s":"N"},{"x":-0.5,"y":0.63,"s":"N"},{"x":-0.4,"y":0.63,"s":"N"},{"x":0.5,"y":0.63,"s":"N"},{"x":0.6,"y":0.63,"s":"N"},{"x":0.7,"y":0.63,"s":"N"},{"x":0.8,"y":0.63,"s":"N"},{"x":0.9,"y":0.63,"s":"N"},
{"x":-0.95,"y":0.645,"s":"N"},{"x":-0.85,"y":0.645,"s":"N"},{"x":-0.75,"y":0.645,"s":"N"},{"x":-0.65,"y":0.645,"s":"N"},{"x":-0.55,"y":0.645,"s":"N"},{"x":-0.45,"y":0.645,"s":"N"},{"x":0.55,"y":0.645,"s":"N"},{"x":0.65,"y":0.645,"s":"N"},{"x":0.75,"y":0.645,"s":"N"},{"x":0.85,"y":0.645,"s":"N"},{"x":0.95,"y":0.645,"s":"N"},
{"x":-0.95,"y":0.66,"s":"N"},{"x":-0.85,"y":0.66,"s":"N"},{"x":-0.75,"y":0.66,"s":"N"},{"x":-0.65,"y":0.66,"s":"N"},{"x":-0.55,"y":0.66,"s":"N"},{"x":-0.45,"y":0.66,"s":"N"},{"x":0.55,"y":0.66,"s":"N"},{"x":0.65,"y":0.66,"s":"N"},{"x":0.75,"y":0.66,"s":"N"},{"x":0.85,"y":0.66,"s":"N"},{"x":0.95,"y":0.66,"s":"N"},
{"x":-0.9,"y":0.675,"s":"N"},{"x":-0.8,"y":0.675,"s":"N"},{"x":-0.7,"y":0.675,"s":"N"},{"x":-0.6,"y":0.675,"s":"N"},{"x":-0.5,"y":0.675,"s":"N"},{"x":0.5,"y":0.675,"s":"N"},{"x":0.6,"y":0.675,"s":"N"},{"x":0.7,"y":0.675,"s":"N"},{"x":0.8,"y":0.675,"s":"N"},{"x":0.9,"y":0.675,"s":"N"},
{"x":-0.9,"y":0.69,"s":"N"},{"x":-0.8,"y":0.69,"s":"N"},{"x":-0.7,"y":0.69,"s":"N"},{"x":-0.6,"y":0.69,"s":"N"},{"x":-0.5,"y":0.69,"s":"N"},{"x":0.5,"y":0.69,"s":"N"},{"x":0.6,"y":0.69,"s":"N"},{"x":0.7,"y":0.69,"s":"N"},{"x":0.8,"y":0.69,"s":"N"},{"x":0.9,"y":0.69,"s":"N"},
{"x":-0.95,"y":0.705,"s":"N"},{"x":-0.85,"y":0.705,"s":"N"},{"x":-0.75,"y":0.705,"s":"N"},{"x":-0.65,"y":0.705,"s":"N"},{"x":-0.55,"y":0.705,"s":"N"},{"x":0.45,"y":0.705,"s":"N"},{"x":0.55,"y":0.705,"s":"N"},{"x":0.65,"y":0.705,"s":"N"},{"x":0.75,"y":0.705,"s":"N"},{"x":0.85,"y":0.705,"s":"N"},{"x":0.95,"y":0.705,"s":"N"},
{"x":-0.95,"y":0.72,"s":"N"},{"x":-0.85,"y":0.72,"s":"N"},{"x":-0.75,"y":0.72,"s":"N"},{"x":-0.65,"y":0.72,"s":"N"},{"x":-0.55,"y":0.72,"s":"N"},{"x":0.45,"y":0.72,"s":"N"},{"x":0.55,"y":0.72,"s":"N"},{"x":0.65,"y":0.72,"s":"N"},{"x":0.75,"y":0.72,"s":"N"},{"x":0.85,"y":0.72,"s":"N"},{"x":0.95,"y":0.72,"s":"N"},
{"x":-0.9,"y":0.735,"s":"N"},{"x":-0.8,"y":0.735,"s":"N"},{"x":-0.7,"y":0.735,"s":"N"},{"x":-0.6,"y":0.735,"s":"N"},{"x":0.4,"y":0.735,"s":"N"},{"x":0.5,"y":0.735,"s":"N"},{"x":0.6,"y":0.735,"s":"N"},{"x":0.7,"y":0.735,"s":"N"},{"x":0.8,"y":0.735,"s":"N"},{"x":0.9,"y":0.735,"s":"N"},
{"x":-0.9,"y":0.75,"s":"N"},{"x":-0.8,"y":0.75,"s":"N"},{"x":-0.7,"y":0.75,"s":"N"},{"x":-0.6,"y":0.75,"s":"N"},{"x":0.4,"y":0.75,"s":"N"},{"x":0.5,"y":0.75,"s":"N"},{"x":0.6,"y":0.75,"s":"N"},{"x":0.7,"y":0.75,"s":"N"},{"x":0.8,"y":0.75,"s":"N"},{"x":0.9,"y":0.75,"s":"N"},
{"x":-0.95,"y":0.765,"s":"N"},{"x":-0.85,"y":0.765,"s":"N"},{"x":-0.75,"y":0.765,"s":"N"},{"x":0.35,"y":0.765,"s":"N"},{"x":0.45,"y":0.765,"s":"N"},{"x":0.55,"y":0.765,"s":"N"},{"x":0.65,"y":0.765,"s":"N"},{"x":0.75,"y":0.765,"s":"N"},{"x":0.85,"y":0.765,"s":"N"},{"x":0.95,"y":0.765,"s":"N"},
{"x":-0.95,"y":0.78,"s":"N"},{"x":-0.85,"y":0.78,"s":"N"},{"x":-0.75,"y":0.78,"s":"N"},{"x":0.35,"y":0.78,"s":"N"},{"x":0.45,"y":0.78,"s":"N"},{"x":0.55,"y":0.78,"s":"N"},{"x":0.65,"y":0.78,"s":"N"},{"x":0.75,"y":0.78,"s":"N"},{"x":0.85,"y":0.78,"s":"N"},{"x":0.95,"y":0.78,"s":"N"},
{"x":-0.9,"y":0.795,"s":"N"},{"x":-0.8,"y":0.795,"s":"N"},{"x":0.6,"y":0.795,"s":"N"},{"x":0.7,"y":0.795,"s":"N"},{"x":0.8,"y":0.795,"s":"N"},{"x":0.9,"y":0.795,"s":"N"},
{"x":-0.9,"y":0.81,"s":"N"},{"x":-0.8,"y":0.81,"s":"N"},{"x":0.6,"y":0.81,"s":"N"},{"x":0.7,"y":0.81,"s":"N"},{"x":0.8,"y":0.81,"s":"N"},{"x":0.9,"y":0.81,"s":"N"},
{"x":0.236,"y":1.229,"s":"N"},{"x":0.963,"y":1.248,"s":"N"},{"x":-0.876,"y":1.078,"s":"N"},{"x":-0.8,"y":1.067,"s":"N"},{"x":-0.566,"y":1.087,"s":"N"},{"x":-0.72,"y":1.019,"s":"N"},{"x":-0.7,"y":1.02,"s":"N"},{"x":0.623,"y":1.019,"s":"N"},{"x":0.778,"y":1.038,"s":"N"},{"x":0.778,"y":1.003,"s":"N"},{"x":-0.99,"y":0.897,"s":"N"},{"x":-0.906,"y":0.897,"s":"N"},{"x":-0.75,"y":0.897,"s":"N"},{"x":0.375,"y":0.897,"s":"N"},{"x":0.407,"y":0.897,"s":"N"},{"x":0.623,"y":0.897,"s":"N"},{"x":0.808,"y":0.897,"s":"N"},{"x":0.9,"y":0.897,"s":"N"},{"x":-0.98,"y":0.883,"s":"N"},{"x":-0.75,"y":0.883,"s":"N"},{"x":-0.74,"y":0.848,"s":"N"},{"x":-0.536,"y":0.818,"s":"N"},{"x":-0.397,"y":0.809,"s":"N"},{"x":-0.489,"y":0.792,"s":"N"},{"x":-0.35,"y":0.691,"s":"N"},{"x":-0.397,"y":0.643,"s":"N"},{"x":-0.366,"y":0.582,"s":"N"},{"x":-0.304,"y":0.503,"s":"N"},{"x":-0.211,"y":0.468,"s":"N"},{"x":-0.165,"y":0.398,"s":"N"},{"x":0.345,"y":0.792,"s":"N"},{"x":0.437,"y":0.774,"s":"N"},{"x":0.87,"y":0.818,"s":"N"},{"x":0.9,"y":0.8,"s":"N"},{"x":0.5,"y":0.652,"s":"N"},{"x":0.53,"y":0.625,"s":"N"},{"x":0.375,"y":0.573,"s":"N"},{"x":0.22,"y":0.503,"s":"N"},{"x":0.19,"y":0.478,"s":"N"},{"x":0.16,"y":0.426,"s":"N"},{"x":0.097,"y":0.348,"s":"N"},{"x":0.066,"y":0.268,"s":"N"},
{"x":-1.05,"y":0.01,"s":"F"},{"x":-1.15,"y":0.01,"s":"F"},{"x":-1.25,"y":0.01,"s":"F"},{"x":-1.35,"y":0.01,"s":"F"},{"x":-1.45,"y":0.02,"s":"F"},
{"x":-1.1,"y":0.025,"s":"F"},{"x":-1.2,"y":0.025,"s":"F"},{"x":-1.3,"y":0.025,"s":"F"},{"x":-1.4,"y":0.025,"s":"F"},{"x":-1.5,"y":0.03,"s":"F"},
{"x":-1.1,"y":0.04,"s":"F"},{"x":-1.2,"y":0.04,"s":"F"},{"x":-1.3,"y":0.04,"s":"F"},{"x":-1.4,"y":0.04,"s":"F"},{"x":-1.5,"y":0.04,"s":"F"},
{"x":-1.05,"y":0.055,"s":"F"},{"x":-1.15,"y":0.055,"s":"F"},{"x":-1.25,"y":0.055,"s":"F"},{"x":-1.35,"y":0.055,"s":"F"},{"x":-1.45,"y":0.055,"s":"F"},
{"x":-1.05,"y":0.07,"s":"F"},{"x":-1.15,"y":0.07,"s":"F"},{"x":-1.25,"y":0.07,"s":"F"},{"x":-1.35,"y":0.07,"s":"F"},{"x":-1.45,"y":0.07,"s":"F"},
{"x":-1.1,"y":0.085,"s":"F"},{"x":-1.2,"y":0.085,"s":"F"},{"x":-1.3,"y":0.085,"s":"F"},{"x":-1.4,"y":0.085,"s":"F"},{"x":-1.5,"y":0.085,"s":"F"},
{"x":-1.1,"y":0.1,"s":"F"},{"x":-1.2,"y":0.1,"s":"F"},{"x":-1.3,"y":0.1,"s":"F"},{"x":-1.4,"y":0.1,"s":"F"},{"x":-1.5,"y":0.1,"s":"F"},
{"x":-1.05,"y":0.115,"s":"F"},{"x":-1.15,"y":0.115,"s":"F"},{"x":-1.25,"y":0.115,"s":"F"},{"x":-1.35,"y":0.115,"s":"F"},{"x":-1.45,"y":0.115,"s":"F"},
{"x":-1.05,"y":0.13,"s":"F"},{"x":-1.15,"y":0.13,"s":"F"},{"x":-1.25,"y":0.13,"s":"F"},{"x":-1.35,"y":0.13,"s":"F"},{"x":-1.45,"y":0.13,"s":"F"},
{"x":-1.1,"y":0.145,"s":"F"},{"x":-1.2,"y":0.145,"s":"F"},{"x":-1.3,"y":0.145,"s":"F"},{"x":-1.4,"y":0.145,"s":"F"},{"x":-1.5,"y":0.145,"s":"F"},
{"x":-1.1,"y":0.16,"s":"F"},{"x":-1.2,"y":0.16,"s":"F"},{"x":-1.3,"y":0.16,"s":"F"},{"x":-1.4,"y":0.16,"s":"F"},{"x":-1.5,"y":0.16,"s":"F"},
{"x":-1.05,"y":0.175,"s":"F"},{"x":-1.15,"y":0.175,"s":"F"},{"x":-1.25,"y":0.175,"s":"F"},{"x":-1.35,"y":0.175,"s":"F"},{"x":-1.45,"y":0.175,"s":"F"},
{"x":-1.05,"y":0.19,"s":"F"},{"x":-1.15,"y":0.19,"s":"F"},{"x":-1.25,"y":0.19,"s":"F"},{"x":-1.35,"y":0.19,"s":"F"},{"x":-1.45,"y":0.19,"s":"F"},
{"x":-1.1,"y":0.205,"s":"F"},{"x":-1.2,"y":0.205,"s":"F"},{"x":-1.3,"y":0.205,"s":"F"},{"x":-1.4,"y":0.205,"s":"F"},{"x":-1.5,"y":0.205,"s":"F"},
{"x":-1.1,"y":0.22,"s":"F"},{"x":-1.2,"y":0.22,"s":"F"},{"x":-1.3,"y":0.22,"s":"F"},{"x":-1.4,"y":0.22,"s":"F"},{"x":-1.5,"y":0.22,"s":"F"},
{"x":-1.05,"y":0.235,"s":"F"},{"x":-1.15,"y":0.235,"s":"F"},{"x":-1.25,"y":0.235,"s":"F"},{"x":-1.35,"y":0.235,"s":"F"},{"x":-1.45,"y":0.235,"s":"F"},
{"x":-1.05,"y":0.25,"s":"F"},{"x":-1.15,"y":0.25,"s":"F"},{"x":-1.25,"y":0.25,"s":"F"},{"x":-1.35,"y":0.25,"s":"F"},{"x":-1.45,"y":0.25,"s":"F"},
{"x":-1.1,"y":0.265,"s":"F"},{"x":-1.2,"y":0.265,"s":"F"},{"x":-1.3,"y":0.265,"s":"F"},{"x":-1.4,"y":0.265,"s":"F"},{"x":-1.5,"y":0.265,"s":"F"},
{"x":-1.1,"y":0.28,"s":"F"},{"x":-1.2,"y":0.28,"s":"F"},{"x":-1.3,"y":0.28,"s":"F"},{"x":-1.4,"y":0.28,"s":"F"},{"x":-1.5,"y":0.28,"s":"F"},
{"x":-1.05,"y":0.295,"s":"F"},{"x":-1.15,"y":0.295,"s":"F"},{"x":-1.25,"y":0.295,"s":"F"},{"x":-1.35,"y":0.295,"s":"F"},{"x":-1.45,"y":0.295,"s":"F"},
{"x":-1.05,"y":0.31,"s":"F"},{"x":-1.15,"y":0.31,"s":"F"},{"x":-1.25,"y":0.31,"s":"F"},{"x":-1.35,"y":0.31,"s":"F"},{"x":-1.45,"y":0.31,"s":"F"},
{"x":-1.1,"y":0.325,"s":"F"},{"x":-1.2,"y":0.325,"s":"F"},{"x":-1.3,"y":0.325,"s":"F"},{"x":-1.4,"y":0.325,"s":"F"},{"x":-1.5,"y":0.325,"s":"F"},
{"x":-1.1,"y":0.34,"s":"F"},{"x":-1.2,"y":0.34,"s":"F"},{"x":-1.3,"y":0.34,"s":"F"},{"x":-1.4,"y":0.34,"s":"F"},{"x":-1.5,"y":0.34,"s":"F"},
{"x":-1.05,"y":0.355,"s":"F"},{"x":-1.15,"y":0.355,"s":"F"},{"x":-1.25,"y":0.355,"s":"F"},{"x":-1.35,"y":0.355,"s":"F"},{"x":-1.45,"y":0.355,"s":"F"},
{"x":-1.05,"y":0.37,"s":"F"},{"x":-1.15,"y":0.37,"s":"F"},{"x":-1.25,"y":0.37,"s":"F"},{"x":-1.35,"y":0.37,"s":"F"},{"x":-1.45,"y":0.37,"s":"F"},
{"x":-1.1,"y":0.385,"s":"F"},{"x":-1.2,"y":0.385,"s":"F"},{"x":-1.3,"y":0.385,"s":"F"},{"x":-1.4,"y":0.385,"s":"F"},{"x":-1.5,"y":0.385,"s":"F"},
{"x":-1.1,"y":0.4,"s":"F"},{"x":-1.2,"y":0.4,"s":"F"},{"x":-1.3,"y":0.4,"s":"F"},{"x":-1.4,"y":0.4,"s":"F"},{"x":-1.5,"y":0.4,"s":"F"},
{"x":-1.05,"y":0.415,"s":"F"},{"x":-1.15,"y":0.415,"s":"F"},{"x":-1.25,"y":0.415,"s":"F"},{"x":-1.35,"y":0.415,"s":"F"},{"x":-1.45,"y":0.415,"s":"F"},
{"x":-1.05,"y":0.43,"s":"F"},{"x":-1.15,"y":0.43,"s":"F"},{"x":-1.25,"y":0.43,"s":"F"},{"x":-1.35,"y":0.43,"s":"F"},{"x":-1.45,"y":0.43,"s":"F"},
{"x":-1.1,"y":0.445,"s":"F"},{"x":-1.2,"y":0.445,"s":"F"},{"x":-1.3,"y":0.445,"s":"F"},{"x":-1.4,"y":0.445,"s":"F"},{"x":-1.5,"y":0.445,"s":"F"},
{"x":-1.1,"y":0.46,"s":"F"},{"x":-1.2,"y":0.46,"s":"F"},{"x":-1.3,"y":0.46,"s":"F"},{"x":-1.4,"y":0.46,"s":"F"},{"x":-1.5,"y":0.46,"s":"F"},
{"x":-1.05,"y":0.475,"s":"F"},{"x":-1.15,"y":0.475,"s":"F"},{"x":-1.25,"y":0.475,"s":"F"},{"x":-1.35,"y":0.475,"s":"F"},{"x":-1.45,"y":0.475,"s":"F"},
{"x":-1.05,"y":0.49,"s":"F"},{"x":-1.15,"y":0.49,"s":"F"},{"x":-1.25,"y":0.49,"s":"F"},{"x":-1.35,"y":0.49,"s":"F"},{"x":-1.45,"y":0.49,"s":"F"},
{"x":-1.1,"y":0.505,"s":"F"},{"x":-1.2,"y":0.505,"s":"F"},{"x":-1.3,"y":0.505,"s":"F"},{"x":-1.4,"y":0.505,"s":"F"},{"x":-1.5,"y":0.505,"s":"F"},
{"x":-1.1,"y":0.52,"s":"F"},{"x":-1.2,"y":0.52,"s":"F"},{"x":-1.3,"y":0.52,"s":"F"},{"x":-1.4,"y":0.52,"s":"F"},{"x":-1.5,"y":0.52,"s":"F"},
{"x":-1.05,"y":0.535,"s":"F"},{"x":-1.15,"y":0.535,"s":"F"},{"x":-1.25,"y":0.535,"s":"F"},{"x":-1.35,"y":0.535,"s":"F"},{"x":-1.45,"y":0.535,"s":"F"},
{"x":-1.05,"y":0.55,"s":"F"},{"x":-1.15,"y":0.55,"s":"F"},{"x":-1.25,"y":0.55,"s":"F"},{"x":-1.35,"y":0.55,"s":"F"},{"x":-1.45,"y":0.55,"s":"F"},
{"x":-1.1,"y":0.565,"s":"F"},{"x":-1.2,"y":0.565,"s":"F"},{"x":-1.3,"y":0.565,"s":"F"},{"x":-1.4,"y":0.565,"s":"F"},{"x":-1.5,"y":0.565,"s":"F"},
{"x":-1.1,"y":0.58,"s":"F"},{"x":-1.2,"y":0.58,"s":"F"},{"x":-1.3,"y":0.58,"s":"F"},{"x":-1.4,"y":0.58,"s":"F"},{"x":-1.5,"y":0.58,"s":"F"},
{"x":-1.05,"y":0.595,"s":"F"},{"x":-1.15,"y":0.595,"s":"F"},{"x":-1.25,"y":0.595,"s":"F"},{"x":-1.35,"y":0.595,"s":"F"},{"x":-1.45,"y":0.595,"s":"F"},
{"x":-1.05,"y":0.61,"s":"F"},{"x":-1.15,"y":0.61,"s":"F"},{"x":-1.25,"y":0.61,"s":"F"},{"x":-1.35,"y":0.61,"s":"F"},{"x":-1.45,"y":0.61,"s":"F"},
{"x":-1.1,"y":0.625,"s":"F"},{"x":-1.2,"y":0.625,"s":"F"},{"x":-1.3,"y":0.625,"s":"F"},{"x":-1.4,"y":0.625,"s":"F"},{"x":-1.5,"y":0.625,"s":"F"},
{"x":-1.1,"y":0.64,"s":"F"},{"x":-1.2,"y":0.64,"s":"F"},{"x":-1.3,"y":0.64,"s":"F"},{"x":-1.4,"y":0.64,"s":"F"},{"x":-1.5,"y":0.64,"s":"F"},
{"x":-1.05,"y":0.655,"s":"F"},{"x":-1.15,"y":0.655,"s":"F"},{"x":-1.25,"y":0.655,"s":"F"},{"x":-1.35,"y":0.655,"s":"F"},{"x":-1.45,"y":0.655,"s":"F"},
{"x":-1.05,"y":0.67,"s":"F"},{"x":-1.15,"y":0.67,"s":"F"},{"x":-1.25,"y":0.67,"s":"F"},{"x":-1.35,"y":0.67,"s":"F"},{"x":-1.45,"y":0.67,"s":"F"},
{"x":-1.1,"y":0.685,"s":"F"},{"x":-1.2,"y":0.685,"s":"F"},{"x":-1.3,"y":0.685,"s":"F"},{"x":-1.4,"y":0.685,"s":"F"},{"x":-1.5,"y":0.685,"s":"F"},
{"x":-1.1,"y":0.7,"s":"F"},{"x":-1.2,"y":0.7,"s":"F"},{"x":-1.3,"y":0.7,"s":"F"},{"x":-1.4,"y":0.7,"s":"F"},{"x":-1.5,"y":0.7,"s":"F"},
{"x":-1.05,"y":0.715,"s":"F"},{"x":-1.15,"y":0.715,"s":"F"},{"x":-1.25,"y":0.715,"s":"F"},{"x":-1.35,"y":0.715,"s":"F"},{"x":-1.45,"y":0.715,"s":"F"},
{"x":-1.05,"y":0.73,"s":"F"},{"x":-1.15,"y":0.73,"s":"F"},{"x":-1.25,"y":0.73,"s":"F"},{"x":-1.35,"y":0.73,"s":"F"},{"x":-1.45,"y":0.73,"s":"F"},
{"x":-1.1,"y":0.745,"s":"F"},{"x":-1.2,"y":0.745,"s":"F"},{"x":-1.3,"y":0.745,"s":"F"},{"x":-1.4,"y":0.745,"s":"F"},{"x":-1.5,"y":0.745,"s":"F"},
{"x":-1.1,"y":0.76,"s":"F"},{"x":-1.2,"y":0.76,"s":"F"},{"x":-1.3,"y":0.76,"s":"F"},{"x":-1.4,"y":0.76,"s":"F"},{"x":-1.5,"y":0.76,"s":"F"},
{"x":-1.05,"y":0.775,"s":"F"},{"x":-1.15,"y":0.775,"s":"F"},{"x":-1.25,"y":0.775,"s":"F"},{"x":-1.35,"y":0.775,"s":"F"},{"x":-1.45,"y":0.775,"s":"F"},
{"x":-1.05,"y":0.79,"s":"F"},{"x":-1.15,"y":0.79,"s":"F"},{"x":-1.25,"y":0.79,"s":"F"},{"x":-1.35,"y":0.79,"s":"F"},{"x":-1.45,"y":0.79,"s":"F"},
{"x":-1.1,"y":0.805,"s":"F"},{"x":-1.2,"y":0.805,"s":"F"},{"x":-1.3,"y":0.805,"s":"F"},{"x":-1.4,"y":0.805,"s":"F"},{"x":-1.5,"y":0.805,"s":"F"},
{"x":-1.1,"y":0.82,"s":"F"},{"x":-1.2,"y":0.82,"s":"F"},{"x":-1.3,"y":0.82,"s":"F"},{"x":-1.4,"y":0.82,"s":"F"},{"x":-1.5,"y":0.82,"s":"F"},
{"x":-1.6,"y":0.06,"s":"F"},{"x":-1.75,"y":0.06,"s":"F"},{"x":-1.9,"y":0.06,"s":"F"},{"x":-2.05,"y":0.07,"s":"F"},{"x":-2.2,"y":0.08,"s":"F"},
{"x":-1.58,"y":0.11,"s":"F"},{"x":-1.7,"y":0.11,"s":"F"},{"x":-1.83,"y":0.11,"s":"F"},{"x":-1.97,"y":0.11,"s":"F"},{"x":-2.12,"y":0.11,"s":"F"},{"x":-2.28,"y":0.11,"s":"F"},{"x":-2.4,"y":0.1,"s":"F"},
{"x":-1.62,"y":0.16,"s":"F"},{"x":-1.76,"y":0.16,"s":"F"},{"x":-1.9,"y":0.16,"s":"F"},{"x":-2.03,"y":0.16,"s":"F"},{"x":-2.18,"y":0.16,"s":"F"},{"x":-2.32,"y":0.17,"s":"F"},
{"x":-1.6,"y":0.21,"s":"F"},{"x":-1.73,"y":0.21,"s":"F"},{"x":-1.87,"y":0.21,"s":"F"},{"x":-2.0,"y":0.21,"s":"F"},{"x":-2.15,"y":0.21,"s":"F"},
{"x":-1.62,"y":0.26,"s":"F"},{"x":-1.78,"y":0.26,"s":"F"},{"x":-1.92,"y":0.26,"s":"F"},{"x":-2.08,"y":0.26,"s":"F"},{"x":-2.25,"y":0.26,"s":"F"},
{"x":-1.6,"y":0.31,"s":"F"},{"x":-1.74,"y":0.31,"s":"F"},{"x":-1.88,"y":0.31,"s":"F"},{"x":-2.02,"y":0.31,"s":"F"},
{"x":-1.63,"y":0.36,"s":"F"},{"x":-1.77,"y":0.36,"s":"F"},{"x":-1.9,"y":0.36,"s":"F"},{"x":-2.05,"y":0.36,"s":"F"},{"x":-2.2,"y":0.36,"s":"F"},
{"x":-1.6,"y":0.41,"s":"F"},{"x":-1.72,"y":0.41,"s":"F"},{"x":-1.86,"y":0.41,"s":"F"},{"x":-2.0,"y":0.41,"s":"F"},
{"x":-1.62,"y":0.46,"s":"F"},{"x":-1.76,"y":0.46,"s":"F"},{"x":-1.9,"y":0.46,"s":"F"},
{"x":-1.6,"y":0.51,"s":"F"},{"x":-1.73,"y":0.51,"s":"F"},{"x":-1.86,"y":0.51,"s":"F"},
{"x":-1.62,"y":0.56,"s":"F"},{"x":-1.75,"y":0.56,"s":"F"},
{"x":-1.6,"y":0.61,"s":"F"},{"x":-1.72,"y":0.61,"s":"F"},{"x":-1.85,"y":0.61,"s":"F"},
{"x":-1.62,"y":0.66,"s":"F"},{"x":-1.76,"y":0.66,"s":"F"},
{"x":-1.6,"y":0.71,"s":"F"},{"x":-1.73,"y":0.71,"s":"F"},
{"x":-1.62,"y":0.76,"s":"F"},{"x":-1.75,"y":0.76,"s":"F"},
{"x":-1.6,"y":0.8,"s":"F"},
{"x":-1.67,"y":0.085,"s":"F"},{"x":-1.82,"y":0.085,"s":"F"},{"x":-1.97,"y":0.085,"s":"F"},{"x":-2.12,"y":0.085,"s":"F"},
{"x":-1.67,"y":0.135,"s":"F"},{"x":-1.82,"y":0.135,"s":"F"},{"x":-1.97,"y":0.135,"s":"F"},{"x":-2.12,"y":0.135,"s":"F"},{"x":-2.26,"y":0.135,"s":"F"},
{"x":-1.67,"y":0.185,"s":"F"},{"x":-1.82,"y":0.185,"s":"F"},{"x":-1.97,"y":0.185,"s":"F"},{"x":-2.1,"y":0.185,"s":"F"},
{"x":-1.67,"y":0.235,"s":"F"},{"x":-1.82,"y":0.235,"s":"F"},{"x":-1.97,"y":0.235,"s":"F"},
{"x":-1.67,"y":0.285,"s":"F"},{"x":-1.82,"y":0.285,"s":"F"},{"x":-1.97,"y":0.285,"s":"F"},{"x":-2.12,"y":0.285,"s":"F"},
{"x":-1.67,"y":0.335,"s":"F"},{"x":-1.82,"y":0.335,"s":"F"},
{"x":-1.67,"y":0.385,"s":"F"},{"x":-1.82,"y":0.385,"s":"F"},{"x":-1.97,"y":0.385,"s":"F"},
{"x":-1.67,"y":0.435,"s":"F"},{"x":-1.82,"y":0.435,"s":"F"},
{"x":-1.67,"y":0.535,"s":"F"},{"x":-1.8,"y":0.535,"s":"F"},
{"x":-1.67,"y":0.635,"s":"F"},{"x":-1.67,"y":0.735,"s":"F"},
{"x":1.05,"y":0.01,"s":"F"},{"x":1.15,"y":0.01,"s":"F"},{"x":1.25,"y":0.02,"s":"F"},{"x":1.35,"y":0.02,"s":"F"},{"x":1.45,"y":0.02,"s":"F"},{"x":1.55,"y":0.03,"s":"F"},{"x":1.65,"y":0.03,"s":"F"},{"x":1.75,"y":0.03,"s":"F"},
{"x":1.1,"y":0.025,"s":"F"},{"x":1.2,"y":0.025,"s":"F"},{"x":1.3,"y":0.03,"s":"F"},{"x":1.4,"y":0.03,"s":"F"},{"x":1.5,"y":0.035,"s":"F"},{"x":1.6,"y":0.04,"s":"F"},{"x":1.7,"y":0.04,"s":"F"},{"x":1.8,"y":0.045,"s":"F"},
{"x":1.1,"y":0.04,"s":"F"},{"x":1.2,"y":0.04,"s":"F"},{"x":1.3,"y":0.045,"s":"F"},{"x":1.4,"y":0.045,"s":"F"},{"x":1.5,"y":0.05,"s":"F"},{"x":1.6,"y":0.055,"s":"F"},{"x":1.7,"y":0.055,"s":"F"},{"x":1.8,"y":0.06,"s":"F"},
{"x":1.05,"y":0.055,"s":"F"},{"x":1.15,"y":0.055,"s":"F"},{"x":1.25,"y":0.055,"s":"F"},{"x":1.35,"y":0.06,"s":"F"},{"x":1.45,"y":0.06,"s":"F"},{"x":1.55,"y":0.065,"s":"F"},{"x":1.65,"y":0.07,"s":"F"},{"x":1.75,"y":0.07,"s":"F"},
{"x":1.05,"y":0.07,"s":"F"},{"x":1.15,"y":0.07,"s":"F"},{"x":1.25,"y":0.07,"s":"F"},{"x":1.35,"y":0.075,"s":"F"},{"x":1.45,"y":0.075,"s":"F"},{"x":1.55,"y":0.08,"s":"F"},{"x":1.65,"y":0.085,"s":"F"},{"x":1.75,"y":0.085,"s":"F"},
{"x":1.1,"y":0.085,"s":"F"},{"x":1.2,"y":0.085,"s":"F"},{"x":1.3,"y":0.085,"s":"F"},{"x":1.4,"y":0.09,"s":"F"},{"x":1.5,"y":0.09,"s":"F"},{"x":1.6,"y":0.095,"s":"F"},{"x":1.7,"y":0.1,"s":"F"},{"x":1.8,"y":0.1,"s":"F"},
{"x":1.1,"y":0.1,"s":"F"},{"x":1.2,"y":0.1,"s":"F"},{"x":1.3,"y":0.1,"s":"F"},{"x":1.4,"y":0.105,"s":"F"},{"x":1.5,"y":0.105,"s":"F"},{"x":1.6,"y":0.11,"s":"F"},{"x":1.7,"y":0.115,"s":"F"},{"x":1.8,"y":0.115,"s":"F"},
{"x":1.05,"y":0.115,"s":"F"},{"x":1.15,"y":0.115,"s":"F"},{"x":1.25,"y":0.115,"s":"F"},{"x":1.35,"y":0.12,"s":"F"},{"x":1.45,"y":0.12,"s":"F"},{"x":1.55,"y":0.125,"s":"F"},{"x":1.65,"y":0.13,"s":"F"},{"x":1.75,"y":0.13,"s":"F"},
{"x":1.05,"y":0.13,"s":"F"},{"x":1.15,"y":0.13,"s":"F"},{"x":1.25,"y":0.13,"s":"F"},{"x":1.35,"y":0.135,"s":"F"},{"x":1.45,"y":0.135,"s":"F"},{"x":1.55,"y":0.14,"s":"F"},{"x":1.65,"y":0.145,"s":"F"},{"x":1.75,"y":0.145,"s":"F"},
{"x":1.1,"y":0.145,"s":"F"},{"x":1.2,"y":0.145,"s":"F"},{"x":1.3,"y":0.15,"s":"F"},{"x":1.4,"y":0.15,"s":"F"},{"x":1.5,"y":0.155,"s":"F"},{"x":1.6,"y":0.155,"s":"F"},{"x":1.7,"y":0.16,"s":"F"},{"x":1.8,"y":0.16,"s":"F"},
{"x":1.1,"y":0.16,"s":"F"},{"x":1.2,"y":0.16,"s":"F"},{"x":1.3,"y":0.165,"s":"F"},{"x":1.4,"y":0.165,"s":"F"},{"x":1.5,"y":0.17,"s":"F"},{"x":1.6,"y":0.17,"s":"F"},{"x":1.7,"y":0.175,"s":"F"},{"x":1.8,"y":0.175,"s":"F"},
{"x":1.05,"y":0.175,"s":"F"},{"x":1.15,"y":0.175,"s":"F"},{"x":1.25,"y":0.18,"s":"F"},{"x":1.35,"y":0.18,"s":"F"},{"x":1.45,"y":0.185,"s":"F"},{"x":1.55,"y":0.185,"s":"F"},{"x":1.65,"y":0.19,"s":"F"},{"x":1.75,"y":0.19,"s":"F"},
{"x":1.05,"y":0.19,"s":"F"},{"x":1.15,"y":0.19,"s":"F"},{"x":1.25,"y":0.195,"s":"F"},{"x":1.35,"y":0.195,"s":"F"},{"x":1.45,"y":0.2,"s":"F"},{"x":1.55,"y":0.2,"s":"F"},{"x":1.65,"y":0.205,"s":"F"},{"x":1.75,"y":0.205,"s":"F"},
{"x":1.1,"y":0.205,"s":"F"},{"x":1.2,"y":0.205,"s":"F"},{"x":1.3,"y":0.21,"s":"F"},{"x":1.4,"y":0.21,"s":"F"},{"x":1.5,"y":0.215,"s":"F"},{"x":1.6,"y":0.215,"s":"F"},{"x":1.7,"y":0.22,"s":"F"},{"x":1.8,"y":0.22,"s":"F"},
{"x":1.1,"y":0.22,"s":"F"},{"x":1.2,"y":0.22,"s":"F"},{"x":1.3,"y":0.225,"s":"F"},{"x":1.4,"y":0.225,"s":"F"},{"x":1.5,"y":0.23,"s":"F"},{"x":1.6,"y":0.23,"s":"F"},{"x":1.7,"y":0.235,"s":"F"},{"x":1.8,"y":0.235,"s":"F"},
{"x":1.05,"y":0.235,"s":"F"},{"x":1.15,"y":0.235,"s":"F"},{"x":1.25,"y":0.24,"s":"F"},{"x":1.35,"y":0.24,"s":"F"},{"x":1.45,"y":0.245,"s":"F"},{"x":1.55,"y":0.245,"s":"F"},{"x":1.65,"y":0.25,"s":"F"},{"x":1.75,"y":0.25,"s":"F"},
{"x":1.05,"y":0.25,"s":"F"},{"x":1.15,"y":0.25,"s":"F"},{"x":1.25,"y":0.255,"s":"F"},{"x":1.35,"y":0.255,"s":"F"},{"x":1.45,"y":0.26,"s":"F"},{"x":1.55,"y":0.26,"s":"F"},{"x":1.65,"y":0.265,"s":"F"},{"x":1.75,"y":0.265,"s":"F"},
{"x":1.1,"y":0.265,"s":"F"},{"x":1.2,"y":0.265,"s":"F"},{"x":1.3,"y":0.27,"s":"F"},{"x":1.4,"y":0.27,"s":"F"},{"x":1.5,"y":0.275,"s":"F"},{"x":1.6,"y":0.275,"s":"F"},{"x":1.7,"y":0.28,"s":"F"},{"x":1.8,"y":0.28,"s":"F"},
{"x":1.1,"y":0.28,"s":"F"},{"x":1.2,"y":0.28,"s":"F"},{"x":1.3,"y":0.285,"s":"F"},{"x":1.4,"y":0.285,"s":"F"},{"x":1.5,"y":0.29,"s":"F"},{"x":1.6,"y":0.29,"s":"F"},{"x":1.7,"y":0.295,"s":"F"},{"x":1.8,"y":0.295,"s":"F"},
{"x":1.05,"y":0.295,"s":"F"},{"x":1.15,"y":0.295,"s":"F"},{"x":1.25,"y":0.3,"s":"F"},{"x":1.35,"y":0.3,"s":"F"},{"x":1.45,"y":0.305,"s":"F"},{"x":1.55,"y":0.305,"s":"F"},{"x":1.65,"y":0.31,"s":"F"},{"x":1.75,"y":0.31,"s":"F"},
{"x":1.05,"y":0.31,"s":"F"},{"x":1.15,"y":0.31,"s":"F"},{"x":1.25,"y":0.315,"s":"F"},{"x":1.35,"y":0.315,"s":"F"},{"x":1.45,"y":0.32,"s":"F"},{"x":1.55,"y":0.32,"s":"F"},{"x":1.65,"y":0.325,"s":"F"},{"x":1.75,"y":0.325,"s":"F"},
{"x":1.1,"y":0.325,"s":"F"},{"x":1.2,"y":0.325,"s":"F"},{"x":1.3,"y":0.33,"s":"F"},{"x":1.4,"y":0.33,"s":"F"},{"x":1.5,"y":0.335,"s":"F"},{"x":1.6,"y":0.335,"s":"F"},{"x":1.7,"y":0.34,"s":"F"},{"x":1.8,"y":0.34,"s":"F"},
{"x":1.1,"y":0.34,"s":"F"},{"x":1.2,"y":0.34,"s":"F"},{"x":1.3,"y":0.345,"s":"F"},{"x":1.4,"y":0.345,"s":"F"},{"x":1.5,"y":0.35,"s":"F"},{"x":1.6,"y":0.35,"s":"F"},{"x":1.7,"y":0.355,"s":"F"},{"x":1.8,"y":0.355,"s":"F"},
{"x":1.05,"y":0.355,"s":"F"},{"x":1.15,"y":0.355,"s":"F"},{"x":1.25,"y":0.36,"s":"F"},{"x":1.35,"y":0.36,"s":"F"},{"x":1.45,"y":0.365,"s":"F"},{"x":1.55,"y":0.365,"s":"F"},{"x":1.65,"y":0.37,"s":"F"},{"x":1.75,"y":0.37,"s":"F"},
{"x":1.05,"y":0.37,"s":"F"},{"x":1.15,"y":0.37,"s":"F"},{"x":1.25,"y":0.375,"s":"F"},{"x":1.35,"y":0.375,"s":"F"},{"x":1.45,"y":0.38,"s":"F"},{"x":1.55,"y":0.38,"s":"F"},{"x":1.65,"y":0.385,"s":"F"},{"x":1.75,"y":0.385,"s":"F"},
{"x":1.1,"y":0.385,"s":"F"},{"x":1.2,"y":0.385,"s":"F"},{"x":1.3,"y":0.39,"s":"F"},{"x":1.4,"y":0.39,"s":"F"},{"x":1.5,"y":0.395,"s":"F"},{"x":1.6,"y":0.395,"s":"F"},{"x":1.7,"y":0.4,"s":"F"},{"x":1.8,"y":0.4,"s":"F"},
{"x":1.1,"y":0.4,"s":"F"},{"x":1.2,"y":0.4,"s":"F"},{"x":1.3,"y":0.405,"s":"F"},{"x":1.4,"y":0.405,"s":"F"},{"x":1.5,"y":0.41,"s":"F"},{"x":1.6,"y":0.41,"s":"F"},{"x":1.7,"y":0.415,"s":"F"},{"x":1.8,"y":0.415,"s":"F"},
{"x":1.05,"y":0.415,"s":"F"},{"x":1.15,"y":0.415,"s":"F"},{"x":1.25,"y":0.42,"s":"F"},{"x":1.35,"y":0.42,"s":"F"},{"x":1.45,"y":0.425,"s":"F"},{"x":1.55,"y":0.425,"s":"F"},{"x":1.65,"y":0.43,"s":"F"},{"x":1.75,"y":0.43,"s":"F"},
{"x":1.05,"y":0.43,"s":"F"},{"x":1.15,"y":0.43,"s":"F"},{"x":1.25,"y":0.435,"s":"F"},{"x":1.35,"y":0.435,"s":"F"},{"x":1.45,"y":0.44,"s":"F"},{"x":1.55,"y":0.44,"s":"F"},{"x":1.65,"y":0.445,"s":"F"},{"x":1.75,"y":0.445,"s":"F"},
{"x":1.1,"y":0.445,"s":"F"},{"x":1.2,"y":0.445,"s":"F"},{"x":1.3,"y":0.45,"s":"F"},{"x":1.4,"y":0.45,"s":"F"},{"x":1.5,"y":0.455,"s":"F"},{"x":1.6,"y":0.455,"s":"F"},{"x":1.7,"y":0.46,"s":"F"},{"x":1.8,"y":0.46,"s":"F"},
{"x":1.1,"y":0.46,"s":"F"},{"x":1.2,"y":0.46,"s":"F"},{"x":1.3,"y":0.465,"s":"F"},{"x":1.4,"y":0.465,"s":"F"},{"x":1.5,"y":0.47,"s":"F"},{"x":1.6,"y":0.47,"s":"F"},{"x":1.7,"y":0.475,"s":"F"},{"x":1.8,"y":0.475,"s":"F"},
{"x":1.05,"y":0.475,"s":"F"},{"x":1.15,"y":0.475,"s":"F"},{"x":1.25,"y":0.48,"s":"F"},{"x":1.35,"y":0.48,"s":"F"},{"x":1.45,"y":0.485,"s":"F"},{"x":1.55,"y":0.485,"s":"F"},{"x":1.65,"y":0.49,"s":"F"},{"x":1.75,"y":0.49,"s":"F"},
{"x":1.05,"y":0.49,"s":"F"},{"x":1.15,"y":0.49,"s":"F"},{"x":1.25,"y":0.495,"s":"F"},{"x":1.35,"y":0.495,"s":"F"},{"x":1.45,"y":0.5,"s":"F"},{"x":1.55,"y":0.5,"s":"F"},{"x":1.65,"y":0.505,"s":"F"},{"x":1.75,"y":0.505,"s":"F"},
{"x":1.1,"y":0.505,"s":"F"},{"x":1.2,"y":0.505,"s":"F"},{"x":1.3,"y":0.51,"s":"F"},{"x":1.4,"y":0.51,"s":"F"},{"x":1.5,"y":0.515,"s":"F"},{"x":1.6,"y":0.515,"s":"F"},{"x":1.7,"y":0.52,"s":"F"},{"x":1.8,"y":0.52,"s":"F"},
{"x":1.1,"y":0.52,"s":"F"},{"x":1.2,"y":0.52,"s":"F"},{"x":1.3,"y":0.525,"s":"F"},{"x":1.4,"y":0.525,"s":"F"},{"x":1.5,"y":0.53,"s":"F"},{"x":1.6,"y":0.53,"s":"F"},
{"x":1.05,"y":0.535,"s":"F"},{"x":1.15,"y":0.535,"s":"F"},{"x":1.25,"y":0.54,"s":"F"},{"x":1.35,"y":0.54,"s":"F"},{"x":1.45,"y":0.545,"s":"F"},
{"x":1.05,"y":0.55,"s":"F"},{"x":1.15,"y":0.55,"s":"F"},{"x":1.25,"y":0.555,"s":"F"},{"x":1.35,"y":0.555,"s":"F"},{"x":1.45,"y":0.56,"s":"F"},
{"x":1.1,"y":0.565,"s":"F"},{"x":1.2,"y":0.565,"s":"F"},{"x":1.3,"y":0.57,"s":"F"},{"x":1.4,"y":0.57,"s":"F"},
{"x":1.1,"y":0.58,"s":"F"},{"x":1.2,"y":0.58,"s":"F"},{"x":1.3,"y":0.585,"s":"F"},{"x":1.4,"y":0.585,"s":"F"},
{"x":1.05,"y":0.595,"s":"F"},{"x":1.15,"y":0.595,"s":"F"},{"x":1.25,"y":0.6,"s":"F"},{"x":1.35,"y":0.6,"s":"F"},{"x":1.45,"y":0.605,"s":"F"},
{"x":1.05,"y":0.61,"s":"F"},{"x":1.15,"y":0.61,"s":"F"},{"x":1.25,"y":0.615,"s":"F"},{"x":1.35,"y":0.615,"s":"F"},{"x":1.45,"y":0.62,"s":"F"},
{"x":1.1,"y":0.625,"s":"F"},{"x":1.2,"y":0.625,"s":"F"},{"x":1.3,"y":0.63,"s":"F"},{"x":1.4,"y":0.63,"s":"F"},
{"x":1.1,"y":0.64,"s":"F"},{"x":1.2,"y":0.64,"s":"F"},{"x":1.3,"y":0.645,"s":"F"},{"x":1.4,"y":0.645,"s":"F"},
{"x":1.05,"y":0.655,"s":"F"},{"x":1.15,"y":0.655,"s":"F"},{"x":1.25,"y":0.66,"s":"F"},{"x":1.35,"y":0.66,"s":"F"},{"x":1.45,"y":0.665,"s":"F"},
{"x":1.05,"y":0.67,"s":"F"},{"x":1.15,"y":0.67,"s":"F"},{"x":1.25,"y":0.675,"s":"F"},{"x":1.35,"y":0.675,"s":"F"},{"x":1.45,"y":0.68,"s":"F"},
{"x":1.1,"y":0.685,"s":"F"},{"x":1.2,"y":0.685,"s":"F"},{"x":1.3,"y":0.69,"s":"F"},{"x":1.4,"y":0.69,"s":"F"},
{"x":1.1,"y":0.7,"s":"F"},{"x":1.2,"y":0.7,"s":"F"},{"x":1.3,"y":0.705,"s":"F"},{"x":1.4,"y":0.705,"s":"F"},
{"x":1.05,"y":0.715,"s":"F"},{"x":1.15,"y":0.715,"s":"F"},{"x":1.25,"y":0.72,"s":"F"},{"x":1.35,"y":0.72,"s":"F"},{"x":1.45,"y":0.725,"s":"F"},
{"x":1.05,"y":0.73,"s":"F"},{"x":1.15,"y":0.73,"s":"F"},{"x":1.25,"y":0.735,"s":"F"},{"x":1.35,"y":0.735,"s":"F"},{"x":1.45,"y":0.74,"s":"F"},
{"x":1.1,"y":0.745,"s":"F"},{"x":1.2,"y":0.745,"s":"F"},{"x":1.3,"y":0.75,"s":"F"},{"x":1.4,"y":0.75,"s":"F"},
{"x":1.1,"y":0.76,"s":"F"},{"x":1.2,"y":0.76,"s":"F"},{"x":1.3,"y":0.765,"s":"F"},{"x":1.4,"y":0.765,"s":"F"},
{"x":1.05,"y":0.775,"s":"F"},{"x":1.15,"y":0.775,"s":"F"},{"x":1.25,"y":0.78,"s":"F"},{"x":1.35,"y":0.78,"s":"F"},{"x":1.45,"y":0.785,"s":"F"},
{"x":1.05,"y":0.79,"s":"F"},{"x":1.15,"y":0.79,"s":"F"},{"x":1.25,"y":0.795,"s":"F"},{"x":1.35,"y":0.795,"s":"F"},
{"x":1.88,"y":0.04,"s":"F"},{"x":2.0,"y":0.05,"s":"F"},
{"x":1.85,"y":0.07,"s":"F"},{"x":1.97,"y":0.08,"s":"F"},{"x":2.09,"y":0.08,"s":"F"},{"x":2.21,"y":0.08,"s":"F"},
{"x":1.92,"y":0.09,"s":"F"},{"x":2.04,"y":0.095,"s":"F"},{"x":2.16,"y":0.095,"s":"F"},{"x":2.28,"y":0.1,"s":"F"},
{"x":1.9,"y":0.11,"s":"F"},{"x":2.02,"y":0.11,"s":"F"},{"x":2.14,"y":0.11,"s":"F"},{"x":2.26,"y":0.115,"s":"F"},{"x":2.38,"y":0.115,"s":"F"},
{"x":1.84,"y":0.13,"s":"F"},{"x":1.96,"y":0.13,"s":"F"},{"x":2.08,"y":0.13,"s":"F"},{"x":2.2,"y":0.13,"s":"F"},{"x":2.32,"y":0.135,"s":"F"},
{"x":1.86,"y":0.15,"s":"F"},{"x":1.98,"y":0.15,"s":"F"},{"x":2.1,"y":0.15,"s":"F"},{"x":2.22,"y":0.15,"s":"F"},{"x":2.34,"y":0.15,"s":"F"},{"x":2.46,"y":0.15,"s":"F"},
{"x":1.92,"y":0.17,"s":"F"},{"x":2.04,"y":0.17,"s":"F"},{"x":2.16,"y":0.17,"s":"F"},{"x":2.28,"y":0.17,"s":"F"},{"x":2.4,"y":0.17,"s":"F"},
{"x":1.9,"y":0.19,"s":"F"},{"x":2.02,"y":0.19,"s":"F"},{"x":2.14,"y":0.19,"s":"F"},{"x":2.26,"y":0.19,"s":"F"},{"x":2.38,"y":0.19,"s":"F"},
{"x":1.84,"y":0.21,"s":"F"},{"x":1.96,"y":0.21,"s":"F"},{"x":2.08,"y":0.21,"s":"F"},{"x":2.2,"y":0.21,"s":"F"},{"x":2.32,"y":0.21,"s":"F"},
{"x":1.86,"y":0.23,"s":"F"},{"x":1.98,"y":0.23,"s":"F"},{"x":2.1,"y":0.23,"s":"F"},{"x":2.22,"y":0.23,"s":"F"},{"x":2.34,"y":0.23,"s":"F"},
{"x":1.92,"y":0.25,"s":"F"},{"x":2.04,"y":0.25,"s":"F"},{"x":2.16,"y":0.25,"s":"F"},{"x":2.28,"y":0.25,"s":"F"},
{"x":1.9,"y":0.27,"s":"F"},{"x":2.02,"y":0.27,"s":"F"},{"x":2.14,"y":0.27,"s":"F"},{"x":2.26,"y":0.27,"s":"F"},{"x":2.4,"y":0.27,"s":"F"},
{"x":1.84,"y":0.29,"s":"F"},{"x":1.96,"y":0.29,"s":"F"},{"x":2.08,"y":0.29,"s":"F"},{"x":2.2,"y":0.29,"s":"F"},{"x":2.32,"y":0.29,"s":"F"},
{"x":1.86,"y":0.31,"s":"F"},{"x":1.98,"y":0.31,"s":"F"},{"x":2.1,"y":0.31,"s":"F"},{"x":2.22,"y":0.31,"s":"F"},{"x":2.34,"y":0.31,"s":"F"},
{"x":1.92,"y":0.33,"s":"F"},{"x":2.04,"y":0.33,"s":"F"},{"x":2.16,"y":0.33,"s":"F"},{"x":2.28,"y":0.33,"s":"F"},
{"x":1.9,"y":0.35,"s":"F"},{"x":2.02,"y":0.35,"s":"F"},{"x":2.14,"y":0.35,"s":"F"},{"x":2.28,"y":0.35,"s":"F"},
{"x":1.84,"y":0.37,"s":"F"},{"x":1.96,"y":0.37,"s":"F"},{"x":2.08,"y":0.37,"s":"F"},{"x":2.2,"y":0.37,"s":"F"},
{"x":1.86,"y":0.39,"s":"F"},{"x":1.98,"y":0.39,"s":"F"},{"x":2.1,"y":0.39,"s":"F"},{"x":2.24,"y":0.39,"s":"F"},
{"x":1.92,"y":0.41,"s":"F"},{"x":2.04,"y":0.41,"s":"F"},{"x":2.16,"y":0.41,"s":"F"},
{"x":1.9,"y":0.43,"s":"F"},{"x":2.02,"y":0.43,"s":"F"},{"x":2.16,"y":0.43,"s":"F"},
{"x":1.84,"y":0.45,"s":"F"},{"x":1.96,"y":0.45,"s":"F"},{"x":2.08,"y":0.45,"s":"F"},
{"x":1.86,"y":0.47,"s":"F"},{"x":2.0,"y":0.47,"s":"F"},{"x":2.12,"y":0.47,"s":"F"},
{"x":1.9,"y":0.51,"s":"F"},{"x":2.05,"y":0.51,"s":"F"},
{"x":1.62,"y":0.55,"s":"F"},{"x":1.75,"y":0.55,"s":"F"},{"x":1.88,"y":0.55,"s":"F"},
{"x":1.55,"y":0.58,"s":"F"},{"x":1.7,"y":0.58,"s":"F"},{"x":1.85,"y":0.58,"s":"F"},{"x":2.0,"y":0.58,"s":"F"},
{"x":1.52,"y":0.61,"s":"F"},{"x":1.65,"y":0.61,"s":"F"},{"x":1.8,"y":0.61,"s":"F"},
{"x":1.55,"y":0.64,"s":"F"},{"x":1.7,"y":0.64,"s":"F"},
{"x":1.52,"y":0.67,"s":"F"},{"x":1.66,"y":0.67,"s":"F"},
{"x":1.55,"y":0.7,"s":"F"},
{"x":2.5,"y":0.09,"s":"F"},{"x":2.65,"y":0.09,"s":"F"},{"x":2.55,"y":0.13,"s":"F"},{"x":2.72,"y":0.13,"s":"F"},{"x":2.5,"y":0.17,"s":"F"},{"x":2.66,"y":0.17,"s":"F"},{"x":2.82,"y":0.17,"s":"F"},{"x":2.48,"y":0.22,"s":"F"},{"x":2.62,"y":0.22,"s":"F"},{"x":2.55,"y":0.26,"s":"F"},{"x":2.7,"y":0.26,"s":"F"},{"x":2.5,"y":0.3,"s":"F"},{"x":2.64,"y":0.3,"s":"F"},{"x":2.45,"y":0.34,"s":"F"},{"x":2.6,"y":0.34,"s":"F"},{"x":2.76,"y":0.34,"s":"F"},{"x":2.42,"y":0.38,"s":"F"},{"x":2.56,"y":0.38,"s":"F"},{"x":2.35,"y":0.43,"s":"F"},{"x":2.5,"y":0.43,"s":"F"},{"x":2.28,"y":0.48,"s":"F"},{"x":2.45,"y":0.48,"s":"F"},{"x":2.25,"y":0.52,"s":"F"},{"x":2.4,"y":0.52,"s":"F"},
{"x":-2.47,"y":1.283,"s":"F"},{"x":-2.43,"y":1.283,"s":"F"},{"x":-2.15,"y":1.292,"s":"F"},{"x":-1.45,"y":1.283,"s":"F"},{"x":-3.525,"y":1.244,"s":"F"},{"x":-1.72,"y":1.248,"s":"F"},{"x":-1.57,"y":1.244,"s":"F"},{"x":-1.5,"y":1.244,"s":"F"},{"x":-1.48,"y":1.244,"s":"F"},{"x":-2.61,"y":1.195,"s":"F"},{"x":-1.93,"y":1.191,"s":"F"},{"x":-2.275,"y":1.152,"s":"F"},{"x":-2.05,"y":1.152,"s":"F"},{"x":-1.56,"y":1.154,"s":"F"},{"x":-1.41,"y":1.15,"s":"F"},{"x":-1.11,"y":1.141,"s":"F"},{"x":-2.13,"y":1.13,"s":"F"},{"x":-2.315,"y":1.117,"s":"F"},{"x":-1.945,"y":1.115,"s":"F"},{"x":-1.785,"y":1.13,"s":"F"},{"x":-1.495,"y":1.117,"s":"F"},{"x":-1.04,"y":1.102,"s":"F"},{"x":-2.62,"y":1.087,"s":"F"},{"x":-1.998,"y":1.078,"s":"F"},{"x":-1.395,"y":1.082,"s":"F"},{"x":-1.33,"y":1.08,"s":"F"},{"x":-1.01,"y":1.04,"s":"F"},{"x":-3.987,"y":1.008,"s":"F"},{"x":-1.986,"y":1.008,"s":"F"},{"x":-1.925,"y":1.008,"s":"F"},{"x":-1.697,"y":1.013,"s":"F"},{"x":-1.57,"y":1.032,"s":"F"},{"x":-1.515,"y":1.006,"s":"F"},{"x":-1.363,"y":1.008,"s":"F"},{"x":-1.21,"y":0.986,"s":"F"},{"x":-1.04,"y":1.006,"s":"F"},{"x":-1.41,"y":0.973,"s":"F"},{"x":-2.87,"y":0.956,"s":"F"},{"x":-2.77,"y":0.951,"s":"F"},{"x":-1.825,"y":0.937,"s":"F"},{"x":-1.705,"y":0.937,"s":"F"},{"x":-1.625,"y":0.956,"s":"F"},{"x":-1.545,"y":0.936,"s":"F"},{"x":-2.255,"y":0.922,"s":"F"},{"x":-1.343,"y":0.918,"s":"F"},{"x":-3.01,"y":0.886,"s":"F"},{"x":-2.95,"y":0.886,"s":"F"},{"x":-2.227,"y":0.905,"s":"F"},{"x":-2.106,"y":0.896,"s":"F"},{"x":-2.026,"y":0.894,"s":"F"},{"x":-1.905,"y":0.889,"s":"F"},{"x":-1.805,"y":0.888,"s":"F"},{"x":-1.664,"y":0.896,"s":"F"},{"x":-1.584,"y":0.898,"s":"F"},{"x":-1.483,"y":0.905,"s":"F"},{"x":-1.37,"y":0.888,"s":"F"},{"x":-3.585,"y":0.853,"s":"F"},{"x":-2.52,"y":0.846,"s":"F"},{"x":-1.625,"y":0.846,"s":"F"},{"x":-4.57,"y":0.794,"s":"F"},{"x":-2.657,"y":0.794,"s":"F"},{"x":-2.315,"y":0.79,"s":"F"},{"x":-2.167,"y":0.794,"s":"F"},{"x":-2.006,"y":0.809,"s":"F"},{"x":-1.905,"y":0.826,"s":"F"},{"x":-2.456,"y":0.756,"s":"F"},{"x":-2.335,"y":0.752,"s":"F"},{"x":-2.57,"y":0.739,"s":"F"},{"x":-2.086,"y":0.774,"s":"F"},{"x":-2.006,"y":0.756,"s":"F"},{"x":-1.885,"y":0.739,"s":"F"},{"x":-2.046,"y":0.721,"s":"F"},{"x":-1.885,"y":0.713,"s":"F"},{"x":-3.364,"y":0.721,"s":"F"},{"x":-2.267,"y":0.665,"s":"F"},{"x":-2.488,"y":0.634,"s":"F"},{"x":-2.375,"y":0.621,"s":"F"},{"x":-2.066,"y":0.625,"s":"F"},{"x":-2.295,"y":0.643,"s":"F"},{"x":-1.945,"y":0.595,"s":"F"},{"x":-1.825,"y":0.612,"s":"F"},{"x":-2.187,"y":0.573,"s":"F"},{"x":-1.933,"y":0.568,"s":"F"},{"x":-1.725,"y":0.581,"s":"F"},{"x":-3.585,"y":0.575,"s":"F"},{"x":-3.505,"y":0.548,"s":"F"},{"x":-3.039,"y":0.522,"s":"F"},{"x":-2.87,"y":0.533,"s":"F"},{"x":-2.56,"y":0.542,"s":"F"},{"x":-2.52,"y":0.522,"s":"F"},{"x":-2.227,"y":0.525,"s":"F"},{"x":-2.187,"y":0.507,"s":"F"},{"x":-2.046,"y":0.494,"s":"F"},{"x":-1.925,"y":0.485,"s":"F"},{"x":-1.765,"y":0.525,"s":"F"},{"x":-1.725,"y":0.503,"s":"F"},{"x":-2.199,"y":0.449,"s":"F"},{"x":-1.945,"y":0.433,"s":"F"},{"x":-1.925,"y":0.42,"s":"F"},{"x":-1.684,"y":0.433,"s":"F"},{"x":-1.604,"y":0.402,"s":"F"},{"x":-2.617,"y":0.413,"s":"F"},{"x":-2.307,"y":0.394,"s":"F"},{"x":-2.167,"y":0.402,"s":"F"},{"x":-1.945,"y":0.389,"s":"F"},{"x":-2.456,"y":0.359,"s":"F"},{"x":-2.548,"y":0.332,"s":"F"},{"x":-2.72,"y":0.315,"s":"F"},{"x":-2.669,"y":0.304,"s":"F"},{"x":-2.536,"y":0.291,"s":"F"},{"x":-2.287,"y":0.332,"s":"F"},{"x":-2.054,"y":0.302,"s":"F"},{"x":-1.966,"y":0.332,"s":"F"},{"x":-1.905,"y":0.297,"s":"F"},{"x":-1.772,"y":0.289,"s":"F"},{"x":-3.163,"y":0.332,"s":"F"},{"x":-3.272,"y":0.306,"s":"F"},{"x":-2.898,"y":0.291,"s":"F"},{"x":-3.324,"y":0.269,"s":"F"},{"x":-6.568,"y":0.291,"s":"F"},{"x":-3.123,"y":0.254,"s":"F"},{"x":-3.051,"y":0.219,"s":"F"},{"x":-3.674,"y":0.223,"s":"F"},{"x":-2.689,"y":0.239,"s":"F"},{"x":-2.548,"y":0.199,"s":"F"},{"x":-2.6,"y":0.197,"s":"F"},{"x":-2.85,"y":0.184,"s":"F"},{"x":-2.81,"y":0.179,"s":"F"},{"x":-2.227,"y":0.206,"s":"F"},{"x":-2.126,"y":0.232,"s":"F"},{"x":-2.046,"y":0.219,"s":"F"},{"x":-1.925,"y":0.258,"s":"F"},{"x":-4.498,"y":0.179,"s":"F"},{"x":-3.754,"y":0.14,"s":"F"},{"x":-3.312,"y":0.144,"s":"F"},{"x":-3.272,"y":0.118,"s":"F"},{"x":-3.099,"y":0.108,"s":"F"},{"x":-2.67,"y":0.105,"s":"F"},{"x":-2.57,"y":0.097,"s":"F"},{"x":-2.488,"y":0.131,"s":"F"},{"x":-2.387,"y":0.149,"s":"F"},{"x":-2.267,"y":0.136,"s":"F"},{"x":-2.146,"y":0.157,"s":"F"},{"x":-2.347,"y":0.074,"s":"F"},{"x":-2.207,"y":0.074,"s":"F"},{"x":-2.086,"y":0.057,"s":"F"},{"x":-1.925,"y":0.053,"s":"F"},{"x":-1.765,"y":0.048,"s":"F"},{"x":-1.604,"y":0.039,"s":"F"},
{"x":-1.416,"y":1.15,"s":"F"},{"x":-1.122,"y":1.141,"s":"F"},{"x":-1.045,"y":1.102,"s":"F"},{"x":-1.015,"y":1.041,"s":"F"},{"x":-1.015,"y":1.006,"s":"F"},{"x":-1.215,"y":0.988,"s":"F"},{"x":-1.416,"y":0.975,"s":"F"},{"x":-1.339,"y":0.918,"s":"F"},{"x":-1.4,"y":0.888,"s":"F"},{"x":-1.447,"y":1.01,"s":"F"},
{"x":1.905,"y":1.294,"s":"F"},{"x":2.728,"y":1.283,"s":"F"},{"x":4.111,"y":1.272,"s":"F"},{"x":1.156,"y":1.189,"s":"F"},{"x":1.085,"y":1.15,"s":"F"},{"x":1.007,"y":1.117,"s":"F"},{"x":1.532,"y":1.102,"s":"F"},{"x":1.532,"y":1.087,"s":"F"},{"x":1.99,"y":1.141,"s":"F"},{"x":2.497,"y":1.152,"s":"F"},{"x":2.834,"y":1.131,"s":"F"},{"x":3.019,"y":1.078,"s":"F"},{"x":1.078,"y":1.008,"s":"F"},{"x":1.774,"y":1.019,"s":"F"},{"x":2.32,"y":1.021,"s":"F"},{"x":4.388,"y":1.013,"s":"F"},{"x":1.703,"y":0.937,"s":"F"},{"x":2.011,"y":0.937,"s":"F"},{"x":2.366,"y":0.954,"s":"F"},
{"x":1.203,"y":0.896,"s":"F"},{"x":1.291,"y":0.896,"s":"F"},{"x":1.38,"y":0.896,"s":"F"},{"x":1.433,"y":0.896,"s":"F"},{"x":1.77,"y":0.896,"s":"F"},{"x":1.788,"y":0.896,"s":"F"},{"x":1.983,"y":0.896,"s":"F"},{"x":2.107,"y":0.896,"s":"F"},{"x":2.143,"y":0.896,"s":"F"},{"x":2.55,"y":0.896,"s":"F"},{"x":3.093,"y":0.896,"s":"F"},{"x":1.469,"y":0.883,"s":"F"},
{"x":2.575,"y":0.863,"s":"F"},{"x":4.246,"y":0.863,"s":"F"},{"x":4.757,"y":0.844,"s":"F"},
{"x":1.628,"y":0.835,"s":"F"},{"x":1.806,"y":0.835,"s":"F"},{"x":1.806,"y":0.818,"s":"F"},{"x":2.249,"y":0.835,"s":"F"},{"x":2.231,"y":0.839,"s":"F"},{"x":1.22,"y":0.822,"s":"F"},{"x":1.291,"y":0.831,"s":"F"},{"x":2.462,"y":0.807,"s":"F"},{"x":2.054,"y":0.8,"s":"F"},{"x":1.469,"y":0.8,"s":"F"},{"x":1.362,"y":0.798,"s":"F"},
{"x":2.817,"y":0.765,"s":"F"},{"x":3.147,"y":0.755,"s":"F"},{"x":3.515,"y":0.758,"s":"F"},{"x":3.526,"y":0.739,"s":"F"},{"x":3.76,"y":0.763,"s":"F"},{"x":2.632,"y":0.756,"s":"F"},{"x":2.426,"y":0.756,"s":"F"},{"x":2.249,"y":0.755,"s":"F"},{"x":1.894,"y":0.756,"s":"F"},{"x":1.788,"y":0.756,"s":"F"},{"x":1.54,"y":0.755,"s":"F"},{"x":1.362,"y":0.748,"s":"F"},{"x":1.185,"y":0.756,"s":"F"},
{"x":3.171,"y":0.732,"s":"F"},{"x":3.232,"y":0.72,"s":"F"},{"x":3.1,"y":0.706,"s":"F"},{"x":2.905,"y":0.693,"s":"F"},{"x":2.71,"y":0.713,"s":"F"},{"x":2.568,"y":0.734,"s":"F"},{"x":2.302,"y":0.704,"s":"F"},{"x":2.072,"y":0.713,"s":"F"},{"x":1.93,"y":0.7,"s":"F"},{"x":1.717,"y":0.686,"s":"F"},{"x":1.54,"y":0.695,"s":"F"},{"x":1.362,"y":0.691,"s":"F"},{"x":1.185,"y":0.713,"s":"F"},
{"x":3.093,"y":0.685,"s":"F"},{"x":2.888,"y":0.665,"s":"F"},{"x":2.763,"y":0.669,"s":"F"},{"x":2.533,"y":0.66,"s":"F"},{"x":2.391,"y":0.665,"s":"F"},{"x":2.143,"y":0.669,"s":"F"},{"x":1.894,"y":0.665,"s":"F"},{"x":1.664,"y":0.665,"s":"F"},{"x":1.451,"y":0.656,"s":"F"},{"x":1.256,"y":0.66,"s":"F"},
{"x":3.295,"y":0.623,"s":"F"},{"x":3.331,"y":0.588,"s":"F"},
{"x":2.604,"y":0.592,"s":"F"},{"x":2.355,"y":0.603,"s":"F"},{"x":2.143,"y":0.616,"s":"F"},{"x":1.965,"y":0.573,"s":"F"},{"x":1.717,"y":0.599,"s":"F"},{"x":1.433,"y":0.608,"s":"F"},{"x":2.462,"y":0.577,"s":"F"},{"x":2.178,"y":0.568,"s":"F"},
{"x":4.633,"y":0.548,"s":"F"},{"x":4.81,"y":0.548,"s":"F"},
{"x":3.072,"y":0.545,"s":"F"},{"x":3.129,"y":0.529,"s":"F"},{"x":3.313,"y":0.527,"s":"F"},{"x":3.455,"y":0.525,"s":"F"},{"x":3.579,"y":0.527,"s":"F"},{"x":2.586,"y":0.548,"s":"F"},{"x":2.71,"y":0.531,"s":"F"},{"x":2.391,"y":0.525,"s":"F"},
{"x":3.083,"y":0.505,"s":"F"},{"x":3.047,"y":0.472,"s":"F"},{"x":2.763,"y":0.49,"s":"F"},{"x":2.639,"y":0.503,"s":"F"},{"x":2.32,"y":0.503,"s":"F"},{"x":2.107,"y":0.516,"s":"F"},
{"x":3.703,"y":0.461,"s":"F"},{"x":3.757,"y":0.459,"s":"F"},{"x":3.448,"y":0.446,"s":"F"},{"x":3.225,"y":0.446,"s":"F"},{"x":2.817,"y":0.455,"s":"F"},{"x":2.675,"y":0.442,"s":"F"},{"x":2.515,"y":0.433,"s":"F"},{"x":2.302,"y":0.442,"s":"F"},{"x":2.143,"y":0.437,"s":"F"},
{"x":4.608,"y":0.42,"s":"F"},
{"x":3.615,"y":0.42,"s":"F"},{"x":3.604,"y":0.405,"s":"F"},{"x":3.178,"y":0.431,"s":"F"},{"x":2.994,"y":0.42,"s":"F"},{"x":2.71,"y":0.42,"s":"F"},{"x":2.338,"y":0.405,"s":"F"},{"x":2.55,"y":0.385,"s":"F"},{"x":2.834,"y":0.38,"s":"F"},{"x":3.03,"y":0.398,"s":"F"},{"x":3.224,"y":0.372,"s":"F"},{"x":3.118,"y":0.372,"s":"F"},{"x":3.012,"y":0.376,"s":"F"},
{"x":3.977,"y":0.387,"s":"F"},
{"x":2.87,"y":0.341,"s":"F"},{"x":3.207,"y":0.328,"s":"F"},{"x":2.728,"y":0.306,"s":"F"},{"x":2.905,"y":0.291,"s":"F"},{"x":2.994,"y":0.267,"s":"F"},{"x":3.242,"y":0.289,"s":"F"},{"x":3.473,"y":0.284,"s":"F"},{"x":3.757,"y":0.293,"s":"F"},{"x":3.029,"y":0.223,"s":"F"},{"x":3.225,"y":0.214,"s":"F"},{"x":3.473,"y":0.225,"s":"F"},{"x":3.65,"y":0.251,"s":"F"},{"x":3.792,"y":0.21,"s":"F"},{"x":4.094,"y":0.192,"s":"F"},{"x":4.573,"y":0.236,"s":"F"},{"x":6.346,"y":0.277,"s":"F"},{"x":3.171,"y":0.131,"s":"F"},{"x":3.242,"y":0.118,"s":"F"},{"x":3.029,"y":0.12,"s":"F"},{"x":2.817,"y":0.096,"s":"F"},{"x":2.604,"y":0.083,"s":"F"},{"x":2.462,"y":0.079,"s":"F"},{"x":2.746,"y":0.245,"s":"F"},{"x":2.675,"y":0.192,"s":"F"},{"x":2.568,"y":0.153,"s":"F"},
{"x":0.953,"y":1.677,"s":"P"},
{"x":-4.05,"y":1.856,"s":"B"},{"x":-2.0,"y":1.854,"s":"B"},{"x":-1.86,"y":1.854,"s":"B"},{"x":-1.57,"y":1.854,"s":"B"},{"x":-5.35,"y":1.679,"s":"B"},{"x":-2.95,"y":1.677,"s":"B"},{"x":-2.43,"y":1.677,"s":"B"},{"x":-1.82,"y":1.677,"s":"B"},{"x":-1.71,"y":1.677,"s":"B"},{"x":-1.58,"y":1.677,"s":"B"},{"x":-1.17,"y":1.677,"s":"B"},{"x":-2.79,"y":1.533,"s":"B"},{"x":-2.25,"y":1.533,"s":"B"},{"x":-4.29,"y":1.445,"s":"B"},{"x":-1.256,"y":1.442,"s":"B"},{"x":-3.345,"y":1.407,"s":"B"},{"x":-2.09,"y":1.407,"s":"B"},{"x":-2.085,"y":1.407,"s":"B"},{"x":-1.87,"y":1.407,"s":"B"},{"x":-1.64,"y":1.407,"s":"B"},{"x":-1.51,"y":1.407,"s":"B"},{"x":-1.25,"y":1.407,"s":"B"},{"x":-1.06,"y":1.407,"s":"B"},{"x":-3.09,"y":1.336,"s":"B"},{"x":-2.98,"y":1.336,"s":"B"},{"x":-2.22,"y":1.337,"s":"B"},{"x":-2.21,"y":1.337,"s":"B"},{"x":-1.93,"y":1.337,"s":"B"},{"x":-1.65,"y":1.337,"s":"B"},{"x":-1.49,"y":1.337,"s":"B"},{"x":-1.35,"y":1.337,"s":"B"},{"x":-2.53,"y":1.318,"s":"B"},{"x":-2.37,"y":1.325,"s":"B"},{"x":3.28,"y":1.855,"s":"B"},{"x":2.0,"y":1.677,"s":"B"},{"x":2.53,"y":1.677,"s":"B"},{"x":3.74,"y":1.37,"s":"B"}
],
"lab":[
{"x":-4.05,"y":1.856,"g":"1700057G04Rik"},{"x":-1.87,"y":1.854,"g":"Cmpk2"},{"x":-5.35,"y":1.679,"g":"Igkv11-125"},{"x":-2.95,"y":1.677,"g":"Cubn"},{"x":-1.58,"y":1.677,"g":"Abcg2"},{"x":-2.79,"y":1.533,"g":"Gm38303"},{"x":-4.29,"y":1.445,"g":"Smcp"},{"x":-1.256,"y":1.442,"g":"Hsd17b7"},{"x":-3.09,"y":1.336,"g":"Nos2"},{"x":-1.93,"y":1.337,"g":"Baat"},{"x":3.28,"y":1.855,"g":"Igkv12-98"},{"x":2.0,"y":1.677,"g":"Chrna2"},{"x":3.74,"y":1.37,"g":"Cpxm1"}
],
"cap":[{"t":"total = 17119 variables"}],
"one":[{"k":1}]
},
"layer":[
{"data":{"name":"pts"},
 "mark":{"type":"circle","size":270,"fillOpacity":0.5,"strokeOpacity":0.5,"strokeWidth":1.5},
 "encoding":{
  "x":{"field":"x","type":"quantitative","scale":{"domain":[-8.876,8.636],"nice":false,"zero":false},
   "axis":{"title":"Log₂ fold change","values":[-5,0,5],"format":"d","labelExpr":"replace(datum.label,'−','-')","grid":false,"domainColor":"black","domainWidth":4.7,"tickColor":"black","tickWidth":2.7,"tickSize":10,"labelFont":"DejaVu Sans","labelFontSize":39,"labelColor":"black","labelPadding":14,"titleFont":"DejaVu Sans","titleFontSize":50,"titleFontWeight":"normal","titleColor":"black","titlePadding":10}},
  "y":{"field":"y","type":"quantitative","scale":{"domain":[-0.125,2.625],"nice":false,"zero":false},
   "axis":{"title":"−Log₁₀ (p-adjusted)","values":[0,0.5,1,1.5,2,2.5],"format":".1f","grid":false,"domainColor":"black","domainWidth":4.7,"tickColor":"black","tickWidth":2.7,"tickSize":10,"labelFont":"DejaVu Sans","labelFontSize":39,"labelColor":"black","labelPadding":16,"titleFont":"DejaVu Sans","titleFontSize":50,"titleFontWeight":"normal","titleColor":"black","titlePadding":22}},
  "fill":{"field":"s","type":"nominal","title":"Sig","scale":{"domain":["N","F","P","B"],"range":["#4D4D4D","#228B22","#4169E1","#EE0000"]},
   "legend":{"orient":"none","legendX":5,"legendY":-99,"direction":"horizontal","titleOrient":"left","titleFont":"DejaVu Sans","titleFontSize":48,"titleFontWeight":"normal","titleColor":"black","titlePadding":35,"titleBaseline":"middle","labelFont":"DejaVu Sans","labelFontSize":42,"labelColor":"black","labelOffset":30,"labelLimit":900,"columnPadding":34,"symbolSize":1735,"symbolType":"circle","symbolStrokeWidth":2,"labelExpr":"datum.label=='N'?'NS':datum.label=='F'?'Log₂ FC':datum.label=='P'?'p-value':'p –value and log₂ FC'","encode":{"symbols":{"update":{"fillOpacity":{"value":0.5},"strokeOpacity":{"value":0.5}}}}}},
  "stroke":{"field":"s","type":"nominal","title":"Sig","scale":{"domain":["N","F","P","B"],"range":["#4D4D4D","#228B22","#4169E1","#EE0000"]},
   "legend":{"orient":"none","legendX":5,"legendY":-99,"direction":"horizontal","titleOrient":"left","titleFont":"DejaVu Sans","titleFontSize":48,"titleFontWeight":"normal","titleColor":"black","titlePadding":35,"titleBaseline":"middle","labelFont":"DejaVu Sans","labelFontSize":42,"labelColor":"black","labelOffset":30,"labelLimit":900,"columnPadding":34,"symbolSize":1735,"symbolType":"circle","symbolStrokeWidth":2,"labelExpr":"datum.label=='N'?'NS':datum.label=='F'?'Log₂ FC':datum.label=='P'?'p-value':'p –value and log₂ FC'","encode":{"symbols":{"update":{"fillOpacity":{"value":0.5},"strokeOpacity":{"value":0.5}}}}}}
 }},
{"data":{"name":"one"},"mark":{"type":"rule","color":"black","strokeWidth":3.3,"strokeDash":[23,11]},"encoding":{"x":{"datum":-1,"type":"quantitative"}}},
{"data":{"name":"one"},"mark":{"type":"rule","color":"black","strokeWidth":3.3,"strokeDash":[23,11]},"encoding":{"x":{"datum":1,"type":"quantitative"}}},
{"data":{"name":"one"},"mark":{"type":"rule","color":"black","strokeWidth":3.3,"strokeDash":[23,11]},"encoding":{"y":{"datum":1.30103,"type":"quantitative"}}},
{"data":{"name":"lab"},"mark":{"type":"text","font":"DejaVu Sans","fontSize":35,"color":"black","align":"center","baseline":"middle"},
 "encoding":{"x":{"field":"x","type":"quantitative"},"y":{"field":"y","type":"quantitative"},"text":{"field":"g"}}},
{"data":{"name":"cap"},"mark":{"type":"text","font":"DejaVu Sans","fontSize":39,"color":"black","align":"right","baseline":"alphabetic"},
 "encoding":{"x":{"datum":8.62,"type":"quantitative"},"y":{"datum":-0.47,"type":"quantitative"},"text":{"field":"t"}}}
]
}
